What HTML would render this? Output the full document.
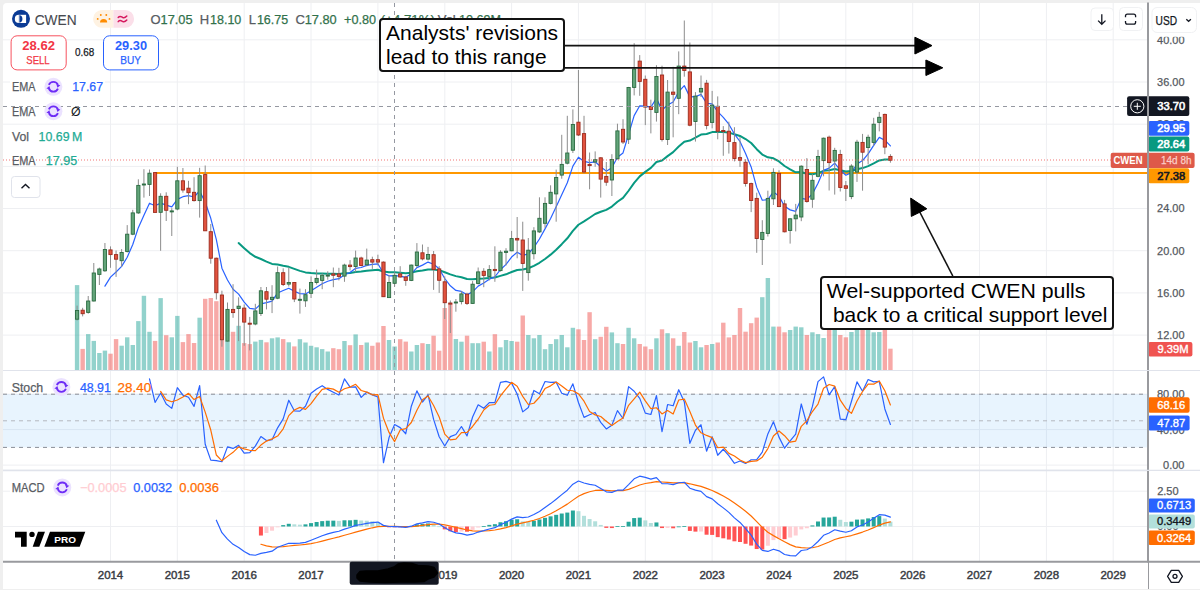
<!DOCTYPE html>
<html><head><meta charset="utf-8"><title>CWEN chart</title>
<style>html,body{margin:0;padding:0;width:1200px;height:590px;overflow:hidden;background:#efefef;font-family:"Liberation Sans",sans-serif}</style>
</head><body>
<svg width="1200" height="590" viewBox="0 0 1200 590" style="position:absolute;left:0;top:0">
<rect x="0" y="0" width="1200" height="590" fill="#efefef"/>
<path d="M3,7 Q3,3 7,3 L1200,3 L1200,589 L3,589 Z" fill="#ffffff"/>
<line x1="110.5" y1="3" x2="110.5" y2="561" stroke="#eeeff2" stroke-width="1"/>
<line x1="177.3" y1="3" x2="177.3" y2="561" stroke="#eeeff2" stroke-width="1"/>
<line x1="244.2" y1="3" x2="244.2" y2="561" stroke="#eeeff2" stroke-width="1"/>
<line x1="311.0" y1="3" x2="311.0" y2="561" stroke="#eeeff2" stroke-width="1"/>
<line x1="377.9" y1="3" x2="377.9" y2="561" stroke="#eeeff2" stroke-width="1"/>
<line x1="444.8" y1="3" x2="444.8" y2="561" stroke="#eeeff2" stroke-width="1"/>
<line x1="511.6" y1="3" x2="511.6" y2="561" stroke="#eeeff2" stroke-width="1"/>
<line x1="578.4" y1="3" x2="578.4" y2="561" stroke="#eeeff2" stroke-width="1"/>
<line x1="645.3" y1="3" x2="645.3" y2="561" stroke="#eeeff2" stroke-width="1"/>
<line x1="712.1" y1="3" x2="712.1" y2="561" stroke="#eeeff2" stroke-width="1"/>
<line x1="779.0" y1="3" x2="779.0" y2="561" stroke="#eeeff2" stroke-width="1"/>
<line x1="845.8" y1="3" x2="845.8" y2="561" stroke="#eeeff2" stroke-width="1"/>
<line x1="912.7" y1="3" x2="912.7" y2="561" stroke="#eeeff2" stroke-width="1"/>
<line x1="979.5" y1="3" x2="979.5" y2="561" stroke="#eeeff2" stroke-width="1"/>
<line x1="1046.4" y1="3" x2="1046.4" y2="561" stroke="#eeeff2" stroke-width="1"/>
<line x1="1113.2" y1="3" x2="1113.2" y2="561" stroke="#eeeff2" stroke-width="1"/>
<line x1="3" y1="39.8" x2="1148" y2="39.8" stroke="#eeeff2" stroke-width="1"/>
<line x1="3" y1="82.0" x2="1148" y2="82.0" stroke="#eeeff2" stroke-width="1"/>
<line x1="3" y1="124.2" x2="1148" y2="124.2" stroke="#eeeff2" stroke-width="1"/>
<line x1="3" y1="166.4" x2="1148" y2="166.4" stroke="#eeeff2" stroke-width="1"/>
<line x1="3" y1="208.5" x2="1148" y2="208.5" stroke="#eeeff2" stroke-width="1"/>
<line x1="3" y1="250.7" x2="1148" y2="250.7" stroke="#eeeff2" stroke-width="1"/>
<line x1="3" y1="292.9" x2="1148" y2="292.9" stroke="#eeeff2" stroke-width="1"/>
<line x1="3" y1="335.1" x2="1148" y2="335.1" stroke="#eeeff2" stroke-width="1"/>
<line x1="3" y1="394.2" x2="1148" y2="394.2" stroke="#eeeff2" stroke-width="1"/>
<line x1="3" y1="429.6" x2="1148" y2="429.6" stroke="#eeeff2" stroke-width="1"/>
<line x1="3" y1="465.1" x2="1148" y2="465.1" stroke="#eeeff2" stroke-width="1"/>
<line x1="3" y1="491.2" x2="1148" y2="491.2" stroke="#eeeff2" stroke-width="1"/>
<line x1="3" y1="526.5" x2="1148" y2="526.5" stroke="#eeeff2" stroke-width="1"/>
<line x1="3" y1="370.5" x2="1200" y2="370.5" stroke="#e0e3eb" stroke-width="1"/>
<line x1="3" y1="470.5" x2="1200" y2="470.5" stroke="#e0e3eb" stroke-width="1.5"/>
<rect x="3" y="394.2" width="1145" height="53.2" fill="#2196f3" fill-opacity="0.1"/>
<line x1="3" y1="394.2" x2="1146" y2="394.2" stroke="#8a8d96" stroke-width="1" stroke-dasharray="4 4"/>
<line x1="3" y1="420.8" x2="1146" y2="420.8" stroke="#b4b7be" stroke-width="1" stroke-dasharray="4 4"/>
<line x1="3" y1="447.4" x2="1146" y2="447.4" stroke="#8a8d96" stroke-width="1" stroke-dasharray="4 4"/>
<rect x="74.88" y="285.1" width="4.4" height="85.1" fill="#26a69a" fill-opacity="0.5"/>
<rect x="80.45" y="348.9" width="4.4" height="21.3" fill="#ef5350" fill-opacity="0.5"/>
<rect x="86.02" y="334.1" width="4.4" height="36.1" fill="#26a69a" fill-opacity="0.5"/>
<rect x="91.59" y="340.9" width="4.4" height="29.3" fill="#26a69a" fill-opacity="0.5"/>
<rect x="97.16" y="353.0" width="4.4" height="17.2" fill="#26a69a" fill-opacity="0.5"/>
<rect x="102.73" y="350.6" width="4.4" height="19.6" fill="#26a69a" fill-opacity="0.5"/>
<rect x="108.30" y="353.7" width="4.4" height="16.5" fill="#ef5350" fill-opacity="0.5"/>
<rect x="113.87" y="339.1" width="4.4" height="31.1" fill="#ef5350" fill-opacity="0.5"/>
<rect x="119.44" y="345.7" width="4.4" height="24.5" fill="#26a69a" fill-opacity="0.5"/>
<rect x="125.01" y="337.3" width="4.4" height="32.9" fill="#26a69a" fill-opacity="0.5"/>
<rect x="130.58" y="345.0" width="4.4" height="25.2" fill="#26a69a" fill-opacity="0.5"/>
<rect x="136.15" y="321.1" width="4.4" height="49.1" fill="#26a69a" fill-opacity="0.5"/>
<rect x="141.73" y="295.8" width="4.4" height="74.4" fill="#26a69a" fill-opacity="0.5"/>
<rect x="147.30" y="331.8" width="4.4" height="38.4" fill="#26a69a" fill-opacity="0.5"/>
<rect x="152.87" y="340.9" width="4.4" height="29.3" fill="#ef5350" fill-opacity="0.5"/>
<rect x="158.44" y="298.1" width="4.4" height="72.1" fill="#26a69a" fill-opacity="0.5"/>
<rect x="164.01" y="335.2" width="4.4" height="35.0" fill="#ef5350" fill-opacity="0.5"/>
<rect x="169.58" y="337.3" width="4.4" height="32.9" fill="#26a69a" fill-opacity="0.5"/>
<rect x="175.15" y="315.9" width="4.4" height="54.3" fill="#26a69a" fill-opacity="0.5"/>
<rect x="180.72" y="342.1" width="4.4" height="28.1" fill="#ef5350" fill-opacity="0.5"/>
<rect x="186.29" y="334.1" width="4.4" height="36.1" fill="#ef5350" fill-opacity="0.5"/>
<rect x="191.86" y="343.0" width="4.4" height="27.2" fill="#ef5350" fill-opacity="0.5"/>
<rect x="197.43" y="317.7" width="4.4" height="52.5" fill="#26a69a" fill-opacity="0.5"/>
<rect x="203.00" y="298.8" width="4.4" height="71.4" fill="#ef5350" fill-opacity="0.5"/>
<rect x="208.57" y="298.0" width="4.4" height="72.2" fill="#ef5350" fill-opacity="0.5"/>
<rect x="214.15" y="301.2" width="4.4" height="69.0" fill="#ef5350" fill-opacity="0.5"/>
<rect x="219.72" y="340.2" width="4.4" height="30.0" fill="#ef5350" fill-opacity="0.5"/>
<rect x="225.29" y="341.1" width="4.4" height="29.1" fill="#26a69a" fill-opacity="0.5"/>
<rect x="230.86" y="331.8" width="4.4" height="38.4" fill="#ef5350" fill-opacity="0.5"/>
<rect x="236.43" y="325.8" width="4.4" height="44.4" fill="#26a69a" fill-opacity="0.5"/>
<rect x="242.00" y="343.1" width="4.4" height="27.1" fill="#ef5350" fill-opacity="0.5"/>
<rect x="247.57" y="344.1" width="4.4" height="26.1" fill="#ef5350" fill-opacity="0.5"/>
<rect x="253.14" y="341.6" width="4.4" height="28.6" fill="#26a69a" fill-opacity="0.5"/>
<rect x="258.71" y="339.9" width="4.4" height="30.3" fill="#26a69a" fill-opacity="0.5"/>
<rect x="264.28" y="342.3" width="4.4" height="27.9" fill="#ef5350" fill-opacity="0.5"/>
<rect x="269.85" y="338.3" width="4.4" height="31.9" fill="#26a69a" fill-opacity="0.5"/>
<rect x="275.43" y="337.4" width="4.4" height="32.8" fill="#26a69a" fill-opacity="0.5"/>
<rect x="281.00" y="339.1" width="4.4" height="31.1" fill="#ef5350" fill-opacity="0.5"/>
<rect x="286.57" y="342.3" width="4.4" height="27.9" fill="#26a69a" fill-opacity="0.5"/>
<rect x="292.14" y="346.4" width="4.4" height="23.8" fill="#ef5350" fill-opacity="0.5"/>
<rect x="297.71" y="339.2" width="4.4" height="31.0" fill="#26a69a" fill-opacity="0.5"/>
<rect x="303.28" y="342.5" width="4.4" height="27.7" fill="#26a69a" fill-opacity="0.5"/>
<rect x="308.85" y="345.8" width="4.4" height="24.4" fill="#26a69a" fill-opacity="0.5"/>
<rect x="314.42" y="347.3" width="4.4" height="22.9" fill="#26a69a" fill-opacity="0.5"/>
<rect x="319.99" y="349.1" width="4.4" height="21.1" fill="#26a69a" fill-opacity="0.5"/>
<rect x="325.56" y="351.5" width="4.4" height="18.7" fill="#26a69a" fill-opacity="0.5"/>
<rect x="331.13" y="348.2" width="4.4" height="22.0" fill="#ef5350" fill-opacity="0.5"/>
<rect x="336.70" y="349.2" width="4.4" height="21.0" fill="#ef5350" fill-opacity="0.5"/>
<rect x="342.27" y="341.0" width="4.4" height="29.2" fill="#26a69a" fill-opacity="0.5"/>
<rect x="347.85" y="345.2" width="4.4" height="25.0" fill="#ef5350" fill-opacity="0.5"/>
<rect x="353.42" y="334.4" width="4.4" height="35.8" fill="#26a69a" fill-opacity="0.5"/>
<rect x="358.99" y="345.0" width="4.4" height="25.2" fill="#ef5350" fill-opacity="0.5"/>
<rect x="364.56" y="342.5" width="4.4" height="27.7" fill="#26a69a" fill-opacity="0.5"/>
<rect x="370.13" y="345.8" width="4.4" height="24.4" fill="#ef5350" fill-opacity="0.5"/>
<rect x="375.70" y="342.5" width="4.4" height="27.7" fill="#ef5350" fill-opacity="0.5"/>
<rect x="381.27" y="326.0" width="4.4" height="44.2" fill="#ef5350" fill-opacity="0.5"/>
<rect x="386.84" y="340.0" width="4.4" height="30.2" fill="#26a69a" fill-opacity="0.5"/>
<rect x="392.41" y="346.5" width="4.4" height="23.7" fill="#26a69a" fill-opacity="0.5"/>
<rect x="397.98" y="339.2" width="4.4" height="31.0" fill="#ef5350" fill-opacity="0.5"/>
<rect x="403.55" y="341.6" width="4.4" height="28.6" fill="#ef5350" fill-opacity="0.5"/>
<rect x="409.12" y="351.5" width="4.4" height="18.7" fill="#26a69a" fill-opacity="0.5"/>
<rect x="414.70" y="345.0" width="4.4" height="25.2" fill="#26a69a" fill-opacity="0.5"/>
<rect x="420.27" y="343.2" width="4.4" height="27.0" fill="#ef5350" fill-opacity="0.5"/>
<rect x="425.84" y="344.0" width="4.4" height="26.2" fill="#26a69a" fill-opacity="0.5"/>
<rect x="431.41" y="335.7" width="4.4" height="34.5" fill="#ef5350" fill-opacity="0.5"/>
<rect x="436.98" y="350.7" width="4.4" height="19.5" fill="#ef5350" fill-opacity="0.5"/>
<rect x="442.55" y="308.0" width="4.4" height="62.2" fill="#ef5350" fill-opacity="0.5"/>
<rect x="448.12" y="303.5" width="4.4" height="66.7" fill="#ef5350" fill-opacity="0.5"/>
<rect x="453.69" y="339.0" width="4.4" height="31.2" fill="#26a69a" fill-opacity="0.5"/>
<rect x="459.26" y="341.7" width="4.4" height="28.5" fill="#26a69a" fill-opacity="0.5"/>
<rect x="464.83" y="335.7" width="4.4" height="34.5" fill="#ef5350" fill-opacity="0.5"/>
<rect x="470.40" y="343.2" width="4.4" height="27.0" fill="#26a69a" fill-opacity="0.5"/>
<rect x="475.97" y="343.2" width="4.4" height="27.0" fill="#26a69a" fill-opacity="0.5"/>
<rect x="481.55" y="341.7" width="4.4" height="28.5" fill="#ef5350" fill-opacity="0.5"/>
<rect x="487.12" y="351.5" width="4.4" height="18.7" fill="#26a69a" fill-opacity="0.5"/>
<rect x="492.69" y="334.2" width="4.4" height="36.0" fill="#ef5350" fill-opacity="0.5"/>
<rect x="498.26" y="347.3" width="4.4" height="22.9" fill="#26a69a" fill-opacity="0.5"/>
<rect x="503.83" y="340.0" width="4.4" height="30.2" fill="#26a69a" fill-opacity="0.5"/>
<rect x="509.40" y="341.0" width="4.4" height="29.2" fill="#26a69a" fill-opacity="0.5"/>
<rect x="514.97" y="341.7" width="4.4" height="28.5" fill="#ef5350" fill-opacity="0.5"/>
<rect x="520.54" y="315.5" width="4.4" height="54.7" fill="#ef5350" fill-opacity="0.5"/>
<rect x="526.11" y="335.0" width="4.4" height="35.2" fill="#26a69a" fill-opacity="0.5"/>
<rect x="531.68" y="338.3" width="4.4" height="31.9" fill="#26a69a" fill-opacity="0.5"/>
<rect x="537.25" y="335.0" width="4.4" height="35.2" fill="#26a69a" fill-opacity="0.5"/>
<rect x="542.82" y="349.2" width="4.4" height="21.0" fill="#26a69a" fill-opacity="0.5"/>
<rect x="548.40" y="344.0" width="4.4" height="26.2" fill="#26a69a" fill-opacity="0.5"/>
<rect x="553.97" y="339.2" width="4.4" height="31.0" fill="#26a69a" fill-opacity="0.5"/>
<rect x="559.54" y="335.0" width="4.4" height="35.2" fill="#26a69a" fill-opacity="0.5"/>
<rect x="565.11" y="347.3" width="4.4" height="22.9" fill="#26a69a" fill-opacity="0.5"/>
<rect x="570.68" y="327.8" width="4.4" height="42.4" fill="#26a69a" fill-opacity="0.5"/>
<rect x="576.25" y="329.3" width="4.4" height="40.9" fill="#ef5350" fill-opacity="0.5"/>
<rect x="581.82" y="340.0" width="4.4" height="30.2" fill="#ef5350" fill-opacity="0.5"/>
<rect x="587.39" y="312.2" width="4.4" height="58.0" fill="#ef5350" fill-opacity="0.5"/>
<rect x="592.96" y="339.2" width="4.4" height="31.0" fill="#26a69a" fill-opacity="0.5"/>
<rect x="598.53" y="336.8" width="4.4" height="33.4" fill="#ef5350" fill-opacity="0.5"/>
<rect x="604.10" y="326.8" width="4.4" height="43.4" fill="#ef5350" fill-opacity="0.5"/>
<rect x="609.67" y="332.4" width="4.4" height="37.8" fill="#26a69a" fill-opacity="0.5"/>
<rect x="615.25" y="343.2" width="4.4" height="27.0" fill="#26a69a" fill-opacity="0.5"/>
<rect x="620.82" y="344.0" width="4.4" height="26.2" fill="#ef5350" fill-opacity="0.5"/>
<rect x="626.39" y="327.8" width="4.4" height="42.4" fill="#26a69a" fill-opacity="0.5"/>
<rect x="631.96" y="338.3" width="4.4" height="31.9" fill="#26a69a" fill-opacity="0.5"/>
<rect x="637.53" y="344.0" width="4.4" height="26.2" fill="#ef5350" fill-opacity="0.5"/>
<rect x="643.10" y="346.5" width="4.4" height="23.7" fill="#ef5350" fill-opacity="0.5"/>
<rect x="648.67" y="349.2" width="4.4" height="21.0" fill="#ef5350" fill-opacity="0.5"/>
<rect x="654.24" y="338.3" width="4.4" height="31.9" fill="#26a69a" fill-opacity="0.5"/>
<rect x="659.81" y="329.3" width="4.4" height="40.9" fill="#ef5350" fill-opacity="0.5"/>
<rect x="665.38" y="333.2" width="4.4" height="37.0" fill="#26a69a" fill-opacity="0.5"/>
<rect x="670.95" y="338.3" width="4.4" height="31.9" fill="#ef5350" fill-opacity="0.5"/>
<rect x="676.52" y="345.8" width="4.4" height="24.4" fill="#26a69a" fill-opacity="0.5"/>
<rect x="682.10" y="332.0" width="4.4" height="38.2" fill="#ef5350" fill-opacity="0.5"/>
<rect x="687.67" y="342.5" width="4.4" height="27.7" fill="#ef5350" fill-opacity="0.5"/>
<rect x="693.24" y="341.0" width="4.4" height="29.2" fill="#26a69a" fill-opacity="0.5"/>
<rect x="698.81" y="347.3" width="4.4" height="22.9" fill="#26a69a" fill-opacity="0.5"/>
<rect x="704.38" y="345.0" width="4.4" height="25.2" fill="#ef5350" fill-opacity="0.5"/>
<rect x="709.95" y="344.0" width="4.4" height="26.2" fill="#26a69a" fill-opacity="0.5"/>
<rect x="715.52" y="342.5" width="4.4" height="27.7" fill="#ef5350" fill-opacity="0.5"/>
<rect x="721.09" y="322.7" width="4.4" height="47.5" fill="#ef5350" fill-opacity="0.5"/>
<rect x="726.66" y="337.4" width="4.4" height="32.8" fill="#ef5350" fill-opacity="0.5"/>
<rect x="732.23" y="335.0" width="4.4" height="35.2" fill="#ef5350" fill-opacity="0.5"/>
<rect x="737.80" y="308.0" width="4.4" height="62.2" fill="#ef5350" fill-opacity="0.5"/>
<rect x="743.37" y="331.7" width="4.4" height="38.5" fill="#ef5350" fill-opacity="0.5"/>
<rect x="748.95" y="323.2" width="4.4" height="47.0" fill="#ef5350" fill-opacity="0.5"/>
<rect x="754.52" y="317.6" width="4.4" height="52.6" fill="#ef5350" fill-opacity="0.5"/>
<rect x="760.09" y="297.2" width="4.4" height="73.0" fill="#26a69a" fill-opacity="0.5"/>
<rect x="765.66" y="278.0" width="4.4" height="92.2" fill="#26a69a" fill-opacity="0.5"/>
<rect x="771.23" y="326.6" width="4.4" height="43.6" fill="#26a69a" fill-opacity="0.5"/>
<rect x="776.80" y="326.6" width="4.4" height="43.6" fill="#ef5350" fill-opacity="0.5"/>
<rect x="782.37" y="332.3" width="4.4" height="37.9" fill="#ef5350" fill-opacity="0.5"/>
<rect x="787.94" y="330.0" width="4.4" height="40.2" fill="#26a69a" fill-opacity="0.5"/>
<rect x="793.51" y="326.6" width="4.4" height="43.6" fill="#26a69a" fill-opacity="0.5"/>
<rect x="799.08" y="327.3" width="4.4" height="42.9" fill="#26a69a" fill-opacity="0.5"/>
<rect x="804.65" y="335.0" width="4.4" height="35.2" fill="#ef5350" fill-opacity="0.5"/>
<rect x="810.22" y="332.3" width="4.4" height="37.9" fill="#26a69a" fill-opacity="0.5"/>
<rect x="815.80" y="334.1" width="4.4" height="36.1" fill="#26a69a" fill-opacity="0.5"/>
<rect x="821.37" y="338.0" width="4.4" height="32.2" fill="#26a69a" fill-opacity="0.5"/>
<rect x="826.94" y="326.0" width="4.4" height="44.2" fill="#ef5350" fill-opacity="0.5"/>
<rect x="832.51" y="326.0" width="4.4" height="44.2" fill="#26a69a" fill-opacity="0.5"/>
<rect x="838.08" y="335.0" width="4.4" height="35.2" fill="#ef5350" fill-opacity="0.5"/>
<rect x="843.65" y="337.3" width="4.4" height="32.9" fill="#ef5350" fill-opacity="0.5"/>
<rect x="849.22" y="332.0" width="4.4" height="38.2" fill="#26a69a" fill-opacity="0.5"/>
<rect x="854.79" y="326.0" width="4.4" height="44.2" fill="#26a69a" fill-opacity="0.5"/>
<rect x="860.36" y="326.0" width="4.4" height="44.2" fill="#ef5350" fill-opacity="0.5"/>
<rect x="865.93" y="326.0" width="4.4" height="44.2" fill="#26a69a" fill-opacity="0.5"/>
<rect x="871.50" y="332.3" width="4.4" height="37.9" fill="#26a69a" fill-opacity="0.5"/>
<rect x="877.07" y="332.0" width="4.4" height="38.2" fill="#26a69a" fill-opacity="0.5"/>
<rect x="882.65" y="326.0" width="4.4" height="44.2" fill="#ef5350" fill-opacity="0.5"/>
<rect x="888.22" y="348.7" width="4.4" height="21.5" fill="#ef5350" fill-opacity="0.5"/>
<line x1="155" y1="173" x2="1148" y2="173" stroke="#ff9800" stroke-width="2"/>
<line x1="394.5" y1="3" x2="394.5" y2="561" stroke="#9598a1" stroke-width="1" stroke-dasharray="4 4"/>
<polyline points="238.63,243.07 244.20,248.17 249.77,253.07 255.34,256.80 260.91,259.00 266.48,261.59 272.05,263.90 277.62,264.46 283.20,265.76 288.77,266.84 294.34,268.91 299.91,270.87 305.48,272.41 311.05,273.06 316.62,273.40 322.19,273.53 327.76,273.63 333.33,273.74 338.90,273.91 344.47,273.34 350.05,272.91 355.62,271.94 361.19,271.53 366.76,270.79 372.33,270.23 377.90,269.71 383.47,271.45 389.04,272.16 394.61,272.36 400.18,272.66 405.75,273.16 411.32,272.64 416.90,271.31 422.47,270.51 428.04,269.48 433.61,269.48 439.18,270.18 444.75,272.28 450.32,274.33 455.89,276.12 461.46,277.26 467.03,278.95 472.60,279.29 478.17,278.81 483.75,278.59 489.32,278.01 494.89,277.53 500.46,275.90 506.03,274.31 511.60,272.00 517.17,269.94 522.74,269.52 528.31,268.27 533.88,265.86 539.45,262.79 545.02,258.96 550.60,254.66 556.17,249.68 561.74,244.18 567.31,238.30 572.88,230.95 578.45,224.76 584.02,221.36 589.59,217.76 595.16,214.02 600.73,211.76 606.30,209.86 611.88,206.61 617.45,201.72 623.02,197.87 628.59,190.75 634.16,182.89 639.73,176.35 645.30,171.88 650.87,167.85 656.44,161.96 662.01,160.51 667.58,156.10 673.15,152.11 678.72,146.56 684.30,141.65 689.87,140.59 695.44,137.72 701.01,134.54 706.58,133.96 712.15,132.10 717.72,132.04 723.29,132.02 728.86,132.63 734.43,134.30 740.00,135.97 745.57,139.03 751.15,143.00 756.72,149.16 762.29,154.53 767.86,157.36 773.43,158.33 779.00,161.45 784.57,165.98 790.14,169.39 795.71,172.34 801.28,171.94 806.85,173.85 812.42,174.27 818.00,173.12 823.57,170.87 829.14,170.33 834.71,169.05 840.28,170.24 845.85,171.40 851.42,171.06 856.99,169.20 862.56,168.10 868.13,166.12 873.70,163.41 879.27,160.44 884.85,159.58 890.42,159.62" fill="none" stroke="#089981" stroke-width="2" stroke-linejoin="round" stroke-linecap="round" />
<polyline points="104.93,286.12 110.50,277.11 116.07,271.99 121.64,266.42 127.21,257.22 132.78,244.56 138.35,227.65 143.93,215.18 149.50,203.19 155.07,205.82 160.64,203.10 166.21,205.16 171.78,206.80 177.35,199.37 182.92,196.69 188.49,195.55 194.06,196.99 199.63,190.91 205.20,202.31 210.77,218.28 216.35,239.54 221.92,268.19 227.49,279.96 233.06,289.29 238.63,294.12 244.20,302.11 249.77,308.42 255.34,309.13 260.91,303.89 266.48,302.55 272.05,301.05 277.62,292.95 283.20,290.54 288.77,288.24 294.34,291.31 299.91,293.60 305.48,293.91 311.05,290.65 316.62,287.15 322.19,283.76 327.76,281.29 333.33,279.58 338.90,278.67 344.47,274.79 350.05,272.45 355.62,268.32 361.19,267.52 366.76,265.40 372.33,264.46 377.90,263.78 383.47,273.19 389.04,275.85 394.61,275.69 400.18,276.07 405.75,277.30 411.32,273.82 416.90,267.58 422.47,265.10 428.04,262.07 433.61,264.22 439.18,268.82 444.75,278.50 450.32,285.81 455.89,290.44 461.46,291.43 467.03,294.85 472.60,291.81 478.17,286.12 483.75,283.06 489.32,279.21 494.89,276.75 500.46,269.74 506.03,264.44 511.60,257.06 517.17,252.18 522.74,255.39 528.31,253.91 533.88,247.33 539.45,239.04 545.02,228.86 550.60,218.41 556.17,206.72 561.74,194.63 567.31,182.74 572.88,166.10 578.45,157.21 584.02,161.44 589.59,162.63 595.16,161.79 600.73,166.74 606.30,171.15 611.88,167.82 617.45,157.27 623.02,152.91 628.59,134.22 634.16,115.59 639.73,105.82 645.30,106.19 650.87,107.13 656.44,98.38 662.01,110.13 667.58,104.98 673.15,101.93 678.72,91.69 684.30,85.64 689.87,96.94 695.44,96.70 701.01,94.33 706.58,103.23 712.15,103.80 717.72,111.63 723.29,117.33 728.86,124.24 734.43,134.03 740.00,141.50 745.57,153.50 751.15,166.93 756.72,187.38 762.29,200.24 767.86,199.72 773.43,191.91 779.00,196.11 784.57,206.31 790.14,209.88 795.71,211.37 801.28,198.46 806.85,199.33 812.42,193.89 818.00,183.21 823.57,170.35 829.14,168.14 834.71,163.07 840.28,170.05 845.85,175.26 851.42,172.65 856.99,163.95 862.56,160.59 868.13,153.94 873.70,145.44 879.27,137.40 884.85,140.17 890.42,145.89" fill="none" stroke="#2962ff" stroke-width="1.2" stroke-linejoin="round" stroke-linecap="round" />
<line x1="77.08" y1="305.6" x2="77.08" y2="320.5" stroke="#8c8c8c" stroke-width="1"/>
<rect x="75.48" y="310.5" width="3.2" height="8.7" fill="#63a57a" stroke="#2a6a40" stroke-width="0.9"/>
<line x1="82.65" y1="307.8" x2="82.65" y2="316.4" stroke="#8c8c8c" stroke-width="1"/>
<rect x="81.05" y="310.2" width="3.2" height="3.5" fill="#e2533f" stroke="#9c2b1d" stroke-width="0.9"/>
<line x1="88.22" y1="296" x2="88.22" y2="313.7" stroke="#8c8c8c" stroke-width="1"/>
<rect x="86.62" y="301.0" width="3.2" height="11.4" fill="#63a57a" stroke="#2a6a40" stroke-width="0.9"/>
<line x1="93.79" y1="263" x2="93.79" y2="301.5" stroke="#8c8c8c" stroke-width="1"/>
<rect x="92.19" y="273.0" width="3.2" height="28.0" fill="#63a57a" stroke="#2a6a40" stroke-width="0.9"/>
<line x1="99.36" y1="267.6" x2="99.36" y2="285" stroke="#8c8c8c" stroke-width="1"/>
<rect x="97.76" y="269.0" width="3.2" height="5.4" fill="#63a57a" stroke="#2a6a40" stroke-width="0.9"/>
<line x1="104.93" y1="243" x2="104.93" y2="271.9" stroke="#8c8c8c" stroke-width="1"/>
<rect x="103.33" y="249.5" width="3.2" height="21.3" fill="#63a57a" stroke="#2a6a40" stroke-width="0.9"/>
<line x1="110.50" y1="246.4" x2="110.50" y2="267.8" stroke="#8c8c8c" stroke-width="1"/>
<rect x="108.90" y="249.9" width="3.2" height="4.7" fill="#e2533f" stroke="#9c2b1d" stroke-width="0.9"/>
<line x1="116.07" y1="250.5" x2="116.07" y2="276.9" stroke="#8c8c8c" stroke-width="1"/>
<rect x="114.47" y="254.6" width="3.2" height="4.6" fill="#e2533f" stroke="#9c2b1d" stroke-width="0.9"/>
<line x1="121.64" y1="249.1" x2="121.64" y2="266.8" stroke="#8c8c8c" stroke-width="1"/>
<rect x="120.04" y="252.5" width="3.2" height="8.2" fill="#63a57a" stroke="#2a6a40" stroke-width="0.9"/>
<line x1="127.21" y1="225.1" x2="127.21" y2="252.5" stroke="#8c8c8c" stroke-width="1"/>
<rect x="125.61" y="234.2" width="3.2" height="17.3" fill="#63a57a" stroke="#2a6a40" stroke-width="0.9"/>
<line x1="132.78" y1="209.8" x2="132.78" y2="235.2" stroke="#8c8c8c" stroke-width="1"/>
<rect x="131.18" y="212.9" width="3.2" height="21.3" fill="#63a57a" stroke="#2a6a40" stroke-width="0.9"/>
<line x1="138.35" y1="179.3" x2="138.35" y2="213.9" stroke="#8c8c8c" stroke-width="1"/>
<rect x="136.75" y="185.4" width="3.2" height="27.5" fill="#63a57a" stroke="#2a6a40" stroke-width="0.9"/>
<line x1="143.93" y1="169.2" x2="143.93" y2="197.6" stroke="#8c8c8c" stroke-width="1"/>
<rect x="142.33" y="184.0" width="3.2" height="1.0" fill="#63a57a" stroke="#2a6a40" stroke-width="0.9"/>
<line x1="149.50" y1="169.5" x2="149.50" y2="196" stroke="#8c8c8c" stroke-width="1"/>
<rect x="147.90" y="173.2" width="3.2" height="11.2" fill="#63a57a" stroke="#2a6a40" stroke-width="0.9"/>
<line x1="155.07" y1="172.6" x2="155.07" y2="212.6" stroke="#8c8c8c" stroke-width="1"/>
<rect x="153.47" y="172.6" width="3.2" height="39.8" fill="#e2533f" stroke="#9c2b1d" stroke-width="0.9"/>
<line x1="160.64" y1="193.3" x2="160.64" y2="250.8" stroke="#8c8c8c" stroke-width="1"/>
<rect x="159.04" y="196.3" width="3.2" height="16.0" fill="#63a57a" stroke="#2a6a40" stroke-width="0.9"/>
<line x1="166.21" y1="192.3" x2="166.21" y2="221" stroke="#8c8c8c" stroke-width="1"/>
<rect x="164.61" y="196.3" width="3.2" height="14.0" fill="#e2533f" stroke="#9c2b1d" stroke-width="0.9"/>
<line x1="171.78" y1="208.2" x2="171.78" y2="236" stroke="#8c8c8c" stroke-width="1"/>
<rect x="170.18" y="210.9" width="3.2" height="1.0" fill="#63a57a" stroke="#2a6a40" stroke-width="0.9"/>
<line x1="177.35" y1="166.8" x2="177.35" y2="210.3" stroke="#8c8c8c" stroke-width="1"/>
<rect x="175.75" y="180.8" width="3.2" height="28.2" fill="#63a57a" stroke="#2a6a40" stroke-width="0.9"/>
<line x1="182.92" y1="168" x2="182.92" y2="192.7" stroke="#8c8c8c" stroke-width="1"/>
<rect x="181.32" y="180.8" width="3.2" height="9.2" fill="#e2533f" stroke="#9c2b1d" stroke-width="0.9"/>
<line x1="188.49" y1="180.8" x2="188.49" y2="204.2" stroke="#8c8c8c" stroke-width="1"/>
<rect x="186.89" y="188.2" width="3.2" height="4.5" fill="#e2533f" stroke="#9c2b1d" stroke-width="0.9"/>
<line x1="194.06" y1="177.2" x2="194.06" y2="201.6" stroke="#8c8c8c" stroke-width="1"/>
<rect x="192.46" y="192.3" width="3.2" height="8.3" fill="#e2533f" stroke="#9c2b1d" stroke-width="0.9"/>
<line x1="199.63" y1="167.8" x2="199.63" y2="217.6" stroke="#8c8c8c" stroke-width="1"/>
<rect x="198.03" y="175.7" width="3.2" height="24.9" fill="#63a57a" stroke="#2a6a40" stroke-width="0.9"/>
<line x1="205.20" y1="165.5" x2="205.20" y2="231" stroke="#8c8c8c" stroke-width="1"/>
<rect x="203.60" y="174.6" width="3.2" height="56.2" fill="#e2533f" stroke="#9c2b1d" stroke-width="0.9"/>
<line x1="210.77" y1="224" x2="210.77" y2="263.7" stroke="#8c8c8c" stroke-width="1"/>
<rect x="209.17" y="231.7" width="3.2" height="26.5" fill="#e2533f" stroke="#9c2b1d" stroke-width="0.9"/>
<line x1="216.35" y1="257.6" x2="216.35" y2="299.5" stroke="#8c8c8c" stroke-width="1"/>
<rect x="214.75" y="258.2" width="3.2" height="34.5" fill="#e2533f" stroke="#9c2b1d" stroke-width="0.9"/>
<line x1="221.92" y1="290.7" x2="221.92" y2="346.7" stroke="#8c8c8c" stroke-width="1"/>
<rect x="220.32" y="295.0" width="3.2" height="44.8" fill="#e2533f" stroke="#9c2b1d" stroke-width="0.9"/>
<line x1="227.49" y1="302.5" x2="227.49" y2="341.5" stroke="#8c8c8c" stroke-width="1"/>
<rect x="225.89" y="309.4" width="3.2" height="31.7" fill="#63a57a" stroke="#2a6a40" stroke-width="0.9"/>
<line x1="233.06" y1="284.2" x2="233.06" y2="317.8" stroke="#8c8c8c" stroke-width="1"/>
<rect x="231.46" y="309.4" width="3.2" height="3.2" fill="#e2533f" stroke="#9c2b1d" stroke-width="0.9"/>
<line x1="238.63" y1="297.3" x2="238.63" y2="341.1" stroke="#8c8c8c" stroke-width="1"/>
<rect x="237.03" y="306.2" width="3.2" height="2.3" fill="#63a57a" stroke="#2a6a40" stroke-width="0.9"/>
<line x1="244.20" y1="304.4" x2="244.20" y2="345.8" stroke="#8c8c8c" stroke-width="1"/>
<rect x="242.60" y="308.1" width="3.2" height="14.0" fill="#e2533f" stroke="#9c2b1d" stroke-width="0.9"/>
<line x1="249.77" y1="316.9" x2="249.77" y2="350.4" stroke="#8c8c8c" stroke-width="1"/>
<rect x="248.17" y="323.2" width="3.2" height="1.0" fill="#e2533f" stroke="#9c2b1d" stroke-width="0.9"/>
<line x1="255.34" y1="303.8" x2="255.34" y2="325.3" stroke="#8c8c8c" stroke-width="1"/>
<rect x="253.74" y="310.9" width="3.2" height="13.1" fill="#63a57a" stroke="#2a6a40" stroke-width="0.9"/>
<line x1="260.91" y1="287" x2="260.91" y2="316" stroke="#8c8c8c" stroke-width="1"/>
<rect x="259.31" y="290.8" width="3.2" height="22.7" fill="#63a57a" stroke="#2a6a40" stroke-width="0.9"/>
<line x1="266.48" y1="287" x2="266.48" y2="309.4" stroke="#8c8c8c" stroke-width="1"/>
<rect x="264.88" y="291.7" width="3.2" height="7.5" fill="#e2533f" stroke="#9c2b1d" stroke-width="0.9"/>
<line x1="272.05" y1="285.2" x2="272.05" y2="313.1" stroke="#8c8c8c" stroke-width="1"/>
<rect x="270.45" y="297.3" width="3.2" height="2.2" fill="#63a57a" stroke="#2a6a40" stroke-width="0.9"/>
<line x1="277.62" y1="266.5" x2="277.62" y2="299.2" stroke="#8c8c8c" stroke-width="1"/>
<rect x="276.02" y="272.7" width="3.2" height="25.5" fill="#63a57a" stroke="#2a6a40" stroke-width="0.9"/>
<line x1="283.20" y1="268.3" x2="283.20" y2="286" stroke="#8c8c8c" stroke-width="1"/>
<rect x="281.60" y="272.7" width="3.2" height="11.8" fill="#e2533f" stroke="#9c2b1d" stroke-width="0.9"/>
<line x1="288.77" y1="267.5" x2="288.77" y2="286.5" stroke="#8c8c8c" stroke-width="1"/>
<rect x="287.17" y="282.5" width="3.2" height="1.6" fill="#63a57a" stroke="#2a6a40" stroke-width="0.9"/>
<line x1="294.34" y1="282" x2="294.34" y2="302.1" stroke="#8c8c8c" stroke-width="1"/>
<rect x="292.74" y="282.5" width="3.2" height="16.5" fill="#e2533f" stroke="#9c2b1d" stroke-width="0.9"/>
<line x1="299.91" y1="288.6" x2="299.91" y2="313.6" stroke="#8c8c8c" stroke-width="1"/>
<rect x="298.31" y="299.3" width="3.2" height="1.0" fill="#63a57a" stroke="#2a6a40" stroke-width="0.9"/>
<line x1="305.48" y1="289.2" x2="305.48" y2="306.9" stroke="#8c8c8c" stroke-width="1"/>
<rect x="303.88" y="294.7" width="3.2" height="6.1" fill="#63a57a" stroke="#2a6a40" stroke-width="0.9"/>
<line x1="311.05" y1="276.4" x2="311.05" y2="298" stroke="#8c8c8c" stroke-width="1"/>
<rect x="309.45" y="282.5" width="3.2" height="10.8" fill="#63a57a" stroke="#2a6a40" stroke-width="0.9"/>
<line x1="316.62" y1="269.6" x2="316.62" y2="284.5" stroke="#8c8c8c" stroke-width="1"/>
<rect x="315.02" y="278.4" width="3.2" height="4.1" fill="#63a57a" stroke="#2a6a40" stroke-width="0.9"/>
<line x1="322.19" y1="273.4" x2="322.19" y2="289.2" stroke="#8c8c8c" stroke-width="1"/>
<rect x="320.59" y="275.3" width="3.2" height="5.1" fill="#63a57a" stroke="#2a6a40" stroke-width="0.9"/>
<line x1="327.76" y1="271.3" x2="327.76" y2="279.7" stroke="#8c8c8c" stroke-width="1"/>
<rect x="326.16" y="275.1" width="3.2" height="1.0" fill="#63a57a" stroke="#2a6a40" stroke-width="0.9"/>
<line x1="333.33" y1="267.5" x2="333.33" y2="287.2" stroke="#8c8c8c" stroke-width="1"/>
<rect x="331.73" y="273.9" width="3.2" height="1.4" fill="#e2533f" stroke="#9c2b1d" stroke-width="0.9"/>
<line x1="338.90" y1="267.8" x2="338.90" y2="280.4" stroke="#8c8c8c" stroke-width="1"/>
<rect x="337.30" y="273.9" width="3.2" height="2.5" fill="#e2533f" stroke="#9c2b1d" stroke-width="0.9"/>
<line x1="344.47" y1="263.7" x2="344.47" y2="281.8" stroke="#8c8c8c" stroke-width="1"/>
<rect x="342.87" y="265.1" width="3.2" height="11.0" fill="#63a57a" stroke="#2a6a40" stroke-width="0.9"/>
<line x1="350.05" y1="260.1" x2="350.05" y2="270.5" stroke="#8c8c8c" stroke-width="1"/>
<rect x="348.45" y="265.1" width="3.2" height="1.5" fill="#e2533f" stroke="#9c2b1d" stroke-width="0.9"/>
<line x1="355.62" y1="250.6" x2="355.62" y2="272.3" stroke="#8c8c8c" stroke-width="1"/>
<rect x="354.02" y="258.0" width="3.2" height="8.5" fill="#63a57a" stroke="#2a6a40" stroke-width="0.9"/>
<line x1="361.19" y1="256.7" x2="361.19" y2="266.2" stroke="#8c8c8c" stroke-width="1"/>
<rect x="359.59" y="258.0" width="3.2" height="7.5" fill="#e2533f" stroke="#9c2b1d" stroke-width="0.9"/>
<line x1="366.76" y1="248.6" x2="366.76" y2="266.2" stroke="#8c8c8c" stroke-width="1"/>
<rect x="365.16" y="260.1" width="3.2" height="4.7" fill="#63a57a" stroke="#2a6a40" stroke-width="0.9"/>
<line x1="372.33" y1="256.7" x2="372.33" y2="268.9" stroke="#8c8c8c" stroke-width="1"/>
<rect x="370.73" y="259.7" width="3.2" height="2.4" fill="#e2533f" stroke="#9c2b1d" stroke-width="0.9"/>
<line x1="377.90" y1="254.7" x2="377.90" y2="265.5" stroke="#8c8c8c" stroke-width="1"/>
<rect x="376.30" y="259.7" width="3.2" height="2.4" fill="#e2533f" stroke="#9c2b1d" stroke-width="0.9"/>
<line x1="383.47" y1="261.4" x2="383.47" y2="297" stroke="#8c8c8c" stroke-width="1"/>
<rect x="381.87" y="262.1" width="3.2" height="34.6" fill="#e2533f" stroke="#9c2b1d" stroke-width="0.9"/>
<line x1="389.04" y1="275" x2="389.04" y2="297.8" stroke="#8c8c8c" stroke-width="1"/>
<rect x="387.44" y="282.5" width="3.2" height="15.1" fill="#63a57a" stroke="#2a6a40" stroke-width="0.9"/>
<line x1="394.61" y1="272.1" x2="394.61" y2="286.5" stroke="#8c8c8c" stroke-width="1"/>
<rect x="393.01" y="275.3" width="3.2" height="8.0" fill="#63a57a" stroke="#2a6a40" stroke-width="0.9"/>
<line x1="400.18" y1="266.2" x2="400.18" y2="277.7" stroke="#8c8c8c" stroke-width="1"/>
<rect x="398.58" y="273.9" width="3.2" height="3.1" fill="#e2533f" stroke="#9c2b1d" stroke-width="0.9"/>
<line x1="405.75" y1="275.7" x2="405.75" y2="285.8" stroke="#8c8c8c" stroke-width="1"/>
<rect x="404.15" y="277.0" width="3.2" height="3.4" fill="#e2533f" stroke="#9c2b1d" stroke-width="0.9"/>
<line x1="411.32" y1="264.6" x2="411.32" y2="281.1" stroke="#8c8c8c" stroke-width="1"/>
<rect x="409.72" y="265.1" width="3.2" height="15.3" fill="#63a57a" stroke="#2a6a40" stroke-width="0.9"/>
<line x1="416.90" y1="243.1" x2="416.90" y2="267.5" stroke="#8c8c8c" stroke-width="1"/>
<rect x="415.30" y="252.0" width="3.2" height="13.5" fill="#63a57a" stroke="#2a6a40" stroke-width="0.9"/>
<line x1="422.47" y1="244.5" x2="422.47" y2="260.4" stroke="#8c8c8c" stroke-width="1"/>
<rect x="420.87" y="252.8" width="3.2" height="6.1" fill="#e2533f" stroke="#9c2b1d" stroke-width="0.9"/>
<line x1="428.04" y1="246.9" x2="428.04" y2="260.4" stroke="#8c8c8c" stroke-width="1"/>
<rect x="426.44" y="254.5" width="3.2" height="4.6" fill="#63a57a" stroke="#2a6a40" stroke-width="0.9"/>
<line x1="433.61" y1="251" x2="433.61" y2="289.9" stroke="#8c8c8c" stroke-width="1"/>
<rect x="432.01" y="254.7" width="3.2" height="14.9" fill="#e2533f" stroke="#9c2b1d" stroke-width="0.9"/>
<line x1="439.18" y1="266.2" x2="439.18" y2="292.9" stroke="#8c8c8c" stroke-width="1"/>
<rect x="437.58" y="268.9" width="3.2" height="11.4" fill="#e2533f" stroke="#9c2b1d" stroke-width="0.9"/>
<line x1="444.75" y1="276.4" x2="444.75" y2="319" stroke="#8c8c8c" stroke-width="1"/>
<rect x="443.15" y="281.8" width="3.2" height="20.9" fill="#e2533f" stroke="#9c2b1d" stroke-width="0.9"/>
<line x1="450.32" y1="300.5" x2="450.32" y2="333" stroke="#8c8c8c" stroke-width="1"/>
<rect x="448.72" y="303.0" width="3.2" height="1.1" fill="#e2533f" stroke="#9c2b1d" stroke-width="0.9"/>
<line x1="455.89" y1="299" x2="455.89" y2="311.7" stroke="#8c8c8c" stroke-width="1"/>
<rect x="454.29" y="302.0" width="3.2" height="1.0" fill="#63a57a" stroke="#2a6a40" stroke-width="0.9"/>
<line x1="461.46" y1="291" x2="461.46" y2="304.4" stroke="#8c8c8c" stroke-width="1"/>
<rect x="459.86" y="293.9" width="3.2" height="7.7" fill="#63a57a" stroke="#2a6a40" stroke-width="0.9"/>
<line x1="467.03" y1="292.8" x2="467.03" y2="305" stroke="#8c8c8c" stroke-width="1"/>
<rect x="465.43" y="294.1" width="3.2" height="9.3" fill="#e2533f" stroke="#9c2b1d" stroke-width="0.9"/>
<line x1="472.60" y1="281.1" x2="472.60" y2="303.6" stroke="#8c8c8c" stroke-width="1"/>
<rect x="471.00" y="284.2" width="3.2" height="19.2" fill="#63a57a" stroke="#2a6a40" stroke-width="0.9"/>
<line x1="478.17" y1="267.5" x2="478.17" y2="284.5" stroke="#8c8c8c" stroke-width="1"/>
<rect x="476.57" y="271.9" width="3.2" height="11.6" fill="#63a57a" stroke="#2a6a40" stroke-width="0.9"/>
<line x1="483.75" y1="268.2" x2="483.75" y2="287.2" stroke="#8c8c8c" stroke-width="1"/>
<rect x="482.15" y="271.3" width="3.2" height="4.1" fill="#e2533f" stroke="#9c2b1d" stroke-width="0.9"/>
<line x1="489.32" y1="265.1" x2="489.32" y2="280.4" stroke="#8c8c8c" stroke-width="1"/>
<rect x="487.72" y="269.6" width="3.2" height="6.8" fill="#63a57a" stroke="#2a6a40" stroke-width="0.9"/>
<line x1="494.89" y1="246.3" x2="494.89" y2="281.8" stroke="#8c8c8c" stroke-width="1"/>
<rect x="493.29" y="269.4" width="3.2" height="1.2" fill="#e2533f" stroke="#9c2b1d" stroke-width="0.9"/>
<line x1="500.46" y1="250.2" x2="500.46" y2="271.6" stroke="#8c8c8c" stroke-width="1"/>
<rect x="498.86" y="252.2" width="3.2" height="18.4" fill="#63a57a" stroke="#2a6a40" stroke-width="0.9"/>
<line x1="506.03" y1="248.2" x2="506.03" y2="265.5" stroke="#8c8c8c" stroke-width="1"/>
<rect x="504.43" y="251.2" width="3.2" height="1.2" fill="#63a57a" stroke="#2a6a40" stroke-width="0.9"/>
<line x1="511.60" y1="230.9" x2="511.60" y2="251.2" stroke="#8c8c8c" stroke-width="1"/>
<rect x="510.00" y="238.6" width="3.2" height="12.2" fill="#63a57a" stroke="#2a6a40" stroke-width="0.9"/>
<line x1="517.17" y1="217" x2="517.17" y2="258.3" stroke="#8c8c8c" stroke-width="1"/>
<rect x="515.57" y="238.4" width="3.2" height="1.6" fill="#e2533f" stroke="#9c2b1d" stroke-width="0.9"/>
<line x1="522.74" y1="221.7" x2="522.74" y2="290.9" stroke="#8c8c8c" stroke-width="1"/>
<rect x="521.14" y="240.0" width="3.2" height="23.4" fill="#e2533f" stroke="#9c2b1d" stroke-width="0.9"/>
<line x1="528.31" y1="238" x2="528.31" y2="280.7" stroke="#8c8c8c" stroke-width="1"/>
<rect x="526.71" y="250.2" width="3.2" height="22.4" fill="#63a57a" stroke="#2a6a40" stroke-width="0.9"/>
<line x1="533.88" y1="227.2" x2="533.88" y2="259.4" stroke="#8c8c8c" stroke-width="1"/>
<rect x="532.28" y="230.9" width="3.2" height="22.8" fill="#63a57a" stroke="#2a6a40" stroke-width="0.9"/>
<line x1="539.45" y1="197.3" x2="539.45" y2="232.9" stroke="#8c8c8c" stroke-width="1"/>
<rect x="537.85" y="218.3" width="3.2" height="13.6" fill="#63a57a" stroke="#2a6a40" stroke-width="0.9"/>
<line x1="545.02" y1="197.3" x2="545.02" y2="227.8" stroke="#8c8c8c" stroke-width="1"/>
<rect x="543.42" y="203.4" width="3.2" height="19.9" fill="#63a57a" stroke="#2a6a40" stroke-width="0.9"/>
<line x1="550.60" y1="185.3" x2="550.60" y2="204.4" stroke="#8c8c8c" stroke-width="1"/>
<rect x="549.00" y="192.3" width="3.2" height="11.1" fill="#63a57a" stroke="#2a6a40" stroke-width="0.9"/>
<line x1="556.17" y1="169.6" x2="556.17" y2="221.7" stroke="#8c8c8c" stroke-width="1"/>
<rect x="554.57" y="177.5" width="3.2" height="16.4" fill="#63a57a" stroke="#2a6a40" stroke-width="0.9"/>
<line x1="561.74" y1="134.8" x2="561.74" y2="178.7" stroke="#8c8c8c" stroke-width="1"/>
<rect x="560.14" y="164.4" width="3.2" height="10.7" fill="#63a57a" stroke="#2a6a40" stroke-width="0.9"/>
<line x1="567.31" y1="115.8" x2="567.31" y2="164.4" stroke="#8c8c8c" stroke-width="1"/>
<rect x="565.71" y="153.0" width="3.2" height="10.2" fill="#63a57a" stroke="#2a6a40" stroke-width="0.9"/>
<line x1="572.88" y1="109.4" x2="572.88" y2="153" stroke="#8c8c8c" stroke-width="1"/>
<rect x="571.28" y="124.5" width="3.2" height="25.7" fill="#63a57a" stroke="#2a6a40" stroke-width="0.9"/>
<line x1="578.45" y1="70" x2="578.45" y2="136" stroke="#8c8c8c" stroke-width="1"/>
<rect x="576.85" y="122.2" width="3.2" height="12.8" fill="#e2533f" stroke="#9c2b1d" stroke-width="0.9"/>
<line x1="584.02" y1="115.8" x2="584.02" y2="173.4" stroke="#8c8c8c" stroke-width="1"/>
<rect x="582.42" y="133.6" width="3.2" height="38.4" fill="#e2533f" stroke="#9c2b1d" stroke-width="0.9"/>
<line x1="589.59" y1="152.5" x2="589.59" y2="189.3" stroke="#8c8c8c" stroke-width="1"/>
<rect x="587.99" y="164.4" width="3.2" height="1.2" fill="#e2533f" stroke="#9c2b1d" stroke-width="0.9"/>
<line x1="595.16" y1="151.4" x2="595.16" y2="166.8" stroke="#8c8c8c" stroke-width="1"/>
<rect x="593.56" y="159.7" width="3.2" height="2.3" fill="#63a57a" stroke="#2a6a40" stroke-width="0.9"/>
<line x1="600.73" y1="157.3" x2="600.73" y2="197.6" stroke="#8c8c8c" stroke-width="1"/>
<rect x="599.13" y="157.8" width="3.2" height="21.3" fill="#e2533f" stroke="#9c2b1d" stroke-width="0.9"/>
<line x1="606.30" y1="162" x2="606.30" y2="185.8" stroke="#8c8c8c" stroke-width="1"/>
<rect x="604.70" y="176.4" width="3.2" height="5.8" fill="#e2533f" stroke="#9c2b1d" stroke-width="0.9"/>
<line x1="611.88" y1="154.2" x2="611.88" y2="196" stroke="#8c8c8c" stroke-width="1"/>
<rect x="610.27" y="159.5" width="3.2" height="20.5" fill="#63a57a" stroke="#2a6a40" stroke-width="0.9"/>
<line x1="617.45" y1="123.7" x2="617.45" y2="159.3" stroke="#8c8c8c" stroke-width="1"/>
<rect x="615.85" y="130.9" width="3.2" height="27.9" fill="#63a57a" stroke="#2a6a40" stroke-width="0.9"/>
<line x1="623.02" y1="119.2" x2="623.02" y2="144" stroke="#8c8c8c" stroke-width="1"/>
<rect x="621.42" y="129.3" width="3.2" height="12.7" fill="#e2533f" stroke="#9c2b1d" stroke-width="0.9"/>
<line x1="628.59" y1="86.9" x2="628.59" y2="144" stroke="#8c8c8c" stroke-width="1"/>
<rect x="626.99" y="87.5" width="3.2" height="51.7" fill="#63a57a" stroke="#2a6a40" stroke-width="0.9"/>
<line x1="634.16" y1="43.2" x2="634.16" y2="95.4" stroke="#8c8c8c" stroke-width="1"/>
<rect x="632.56" y="69.0" width="3.2" height="18.4" fill="#63a57a" stroke="#2a6a40" stroke-width="0.9"/>
<line x1="639.73" y1="55.1" x2="639.73" y2="95.8" stroke="#8c8c8c" stroke-width="1"/>
<rect x="638.13" y="61.1" width="3.2" height="20.3" fill="#e2533f" stroke="#9c2b1d" stroke-width="0.9"/>
<line x1="645.30" y1="75.5" x2="645.30" y2="125.1" stroke="#8c8c8c" stroke-width="1"/>
<rect x="643.70" y="79.3" width="3.2" height="27.8" fill="#e2533f" stroke="#9c2b1d" stroke-width="0.9"/>
<line x1="650.87" y1="99.7" x2="650.87" y2="133.4" stroke="#8c8c8c" stroke-width="1"/>
<rect x="649.27" y="106.5" width="3.2" height="3.0" fill="#e2533f" stroke="#9c2b1d" stroke-width="0.9"/>
<line x1="656.44" y1="65.2" x2="656.44" y2="121.6" stroke="#8c8c8c" stroke-width="1"/>
<rect x="654.84" y="76.5" width="3.2" height="35.9" fill="#63a57a" stroke="#2a6a40" stroke-width="0.9"/>
<line x1="662.01" y1="65.7" x2="662.01" y2="141.5" stroke="#8c8c8c" stroke-width="1"/>
<rect x="660.41" y="75.0" width="3.2" height="64.5" fill="#e2533f" stroke="#9c2b1d" stroke-width="0.9"/>
<line x1="667.58" y1="80" x2="667.58" y2="145" stroke="#8c8c8c" stroke-width="1"/>
<rect x="665.98" y="92.1" width="3.2" height="47.4" fill="#63a57a" stroke="#2a6a40" stroke-width="0.9"/>
<line x1="673.15" y1="66.8" x2="673.15" y2="137.3" stroke="#8c8c8c" stroke-width="1"/>
<rect x="671.55" y="92.1" width="3.2" height="2.2" fill="#e2533f" stroke="#9c2b1d" stroke-width="0.9"/>
<line x1="678.72" y1="51.4" x2="678.72" y2="114.2" stroke="#8c8c8c" stroke-width="1"/>
<rect x="677.12" y="66.1" width="3.2" height="32.2" fill="#63a57a" stroke="#2a6a40" stroke-width="0.9"/>
<line x1="684.30" y1="20.5" x2="684.30" y2="76.7" stroke="#8c8c8c" stroke-width="1"/>
<rect x="682.70" y="66.1" width="3.2" height="4.4" fill="#e2533f" stroke="#9c2b1d" stroke-width="0.9"/>
<line x1="689.87" y1="42.5" x2="689.87" y2="126.3" stroke="#8c8c8c" stroke-width="1"/>
<rect x="688.27" y="71.9" width="3.2" height="53.3" fill="#e2533f" stroke="#9c2b1d" stroke-width="0.9"/>
<line x1="695.44" y1="92.1" x2="695.44" y2="141.6" stroke="#8c8c8c" stroke-width="1"/>
<rect x="693.84" y="96.1" width="3.2" height="25.4" fill="#63a57a" stroke="#2a6a40" stroke-width="0.9"/>
<line x1="701.01" y1="75.5" x2="701.01" y2="97" stroke="#8c8c8c" stroke-width="1"/>
<rect x="699.41" y="88.4" width="3.2" height="3.6" fill="#63a57a" stroke="#2a6a40" stroke-width="0.9"/>
<line x1="706.58" y1="79.9" x2="706.58" y2="129.4" stroke="#8c8c8c" stroke-width="1"/>
<rect x="704.98" y="83.2" width="3.2" height="42.3" fill="#e2533f" stroke="#9c2b1d" stroke-width="0.9"/>
<line x1="712.15" y1="90.9" x2="712.15" y2="128.3" stroke="#8c8c8c" stroke-width="1"/>
<rect x="710.55" y="105.2" width="3.2" height="17.2" fill="#63a57a" stroke="#2a6a40" stroke-width="0.9"/>
<line x1="717.72" y1="96.4" x2="717.72" y2="139.3" stroke="#8c8c8c" stroke-width="1"/>
<rect x="716.12" y="106.3" width="3.2" height="24.9" fill="#e2533f" stroke="#9c2b1d" stroke-width="0.9"/>
<line x1="723.29" y1="126.1" x2="723.29" y2="155.8" stroke="#8c8c8c" stroke-width="1"/>
<rect x="721.69" y="130.5" width="3.2" height="1.1" fill="#e2533f" stroke="#9c2b1d" stroke-width="0.9"/>
<line x1="728.86" y1="121.7" x2="728.86" y2="153.6" stroke="#8c8c8c" stroke-width="1"/>
<rect x="727.26" y="131.2" width="3.2" height="10.3" fill="#e2533f" stroke="#9c2b1d" stroke-width="0.9"/>
<line x1="734.43" y1="127.2" x2="734.43" y2="161.4" stroke="#8c8c8c" stroke-width="1"/>
<rect x="732.83" y="142.6" width="3.2" height="15.9" fill="#e2533f" stroke="#9c2b1d" stroke-width="0.9"/>
<line x1="740.00" y1="137.1" x2="740.00" y2="166.9" stroke="#8c8c8c" stroke-width="1"/>
<rect x="738.40" y="157.6" width="3.2" height="2.6" fill="#e2533f" stroke="#9c2b1d" stroke-width="0.9"/>
<line x1="745.57" y1="159.2" x2="745.57" y2="186.6" stroke="#8c8c8c" stroke-width="1"/>
<rect x="743.97" y="162.2" width="3.2" height="21.3" fill="#e2533f" stroke="#9c2b1d" stroke-width="0.9"/>
<line x1="751.15" y1="182.6" x2="751.15" y2="212.1" stroke="#8c8c8c" stroke-width="1"/>
<rect x="749.55" y="183.6" width="3.2" height="16.9" fill="#e2533f" stroke="#9c2b1d" stroke-width="0.9"/>
<line x1="756.72" y1="192.7" x2="756.72" y2="252.8" stroke="#8c8c8c" stroke-width="1"/>
<rect x="755.12" y="198.4" width="3.2" height="40.1" fill="#e2533f" stroke="#9c2b1d" stroke-width="0.9"/>
<line x1="762.29" y1="220.2" x2="762.29" y2="265" stroke="#8c8c8c" stroke-width="1"/>
<rect x="760.69" y="232.4" width="3.2" height="7.1" fill="#63a57a" stroke="#2a6a40" stroke-width="0.9"/>
<line x1="767.86" y1="190.7" x2="767.86" y2="236.5" stroke="#8c8c8c" stroke-width="1"/>
<rect x="766.26" y="198.4" width="3.2" height="35.0" fill="#63a57a" stroke="#2a6a40" stroke-width="0.9"/>
<line x1="773.43" y1="168.3" x2="773.43" y2="205" stroke="#8c8c8c" stroke-width="1"/>
<rect x="771.83" y="172.4" width="3.2" height="26.4" fill="#63a57a" stroke="#2a6a40" stroke-width="0.9"/>
<line x1="779.00" y1="170.3" x2="779.00" y2="207" stroke="#8c8c8c" stroke-width="1"/>
<rect x="777.40" y="173.4" width="3.2" height="33.2" fill="#e2533f" stroke="#9c2b1d" stroke-width="0.9"/>
<line x1="784.57" y1="199.9" x2="784.57" y2="232.4" stroke="#8c8c8c" stroke-width="1"/>
<rect x="782.97" y="203.9" width="3.2" height="27.9" fill="#e2533f" stroke="#9c2b1d" stroke-width="0.9"/>
<line x1="790.14" y1="218.2" x2="790.14" y2="243.6" stroke="#8c8c8c" stroke-width="1"/>
<rect x="788.54" y="218.8" width="3.2" height="11.6" fill="#63a57a" stroke="#2a6a40" stroke-width="0.9"/>
<line x1="795.71" y1="203.9" x2="795.71" y2="231.4" stroke="#8c8c8c" stroke-width="1"/>
<rect x="794.11" y="215.1" width="3.2" height="3.7" fill="#63a57a" stroke="#2a6a40" stroke-width="0.9"/>
<line x1="801.28" y1="165.3" x2="801.28" y2="221.2" stroke="#8c8c8c" stroke-width="1"/>
<rect x="799.68" y="166.2" width="3.2" height="50.8" fill="#63a57a" stroke="#2a6a40" stroke-width="0.9"/>
<line x1="806.85" y1="158.1" x2="806.85" y2="202.7" stroke="#8c8c8c" stroke-width="1"/>
<rect x="805.25" y="169.5" width="3.2" height="32.0" fill="#e2533f" stroke="#9c2b1d" stroke-width="0.9"/>
<line x1="812.42" y1="174.2" x2="812.42" y2="207.8" stroke="#8c8c8c" stroke-width="1"/>
<rect x="810.82" y="180.3" width="3.2" height="18.9" fill="#63a57a" stroke="#2a6a40" stroke-width="0.9"/>
<line x1="818.00" y1="149.8" x2="818.00" y2="177.3" stroke="#8c8c8c" stroke-width="1"/>
<rect x="816.40" y="156.5" width="3.2" height="19.8" fill="#63a57a" stroke="#2a6a40" stroke-width="0.9"/>
<line x1="823.57" y1="137.6" x2="823.57" y2="176.3" stroke="#8c8c8c" stroke-width="1"/>
<rect x="821.97" y="138.2" width="3.2" height="22.4" fill="#63a57a" stroke="#2a6a40" stroke-width="0.9"/>
<line x1="829.14" y1="135.6" x2="829.14" y2="190.5" stroke="#8c8c8c" stroke-width="1"/>
<rect x="827.54" y="137.2" width="3.2" height="25.4" fill="#e2533f" stroke="#9c2b1d" stroke-width="0.9"/>
<line x1="834.71" y1="147.8" x2="834.71" y2="194.6" stroke="#8c8c8c" stroke-width="1"/>
<rect x="833.11" y="150.4" width="3.2" height="10.6" fill="#63a57a" stroke="#2a6a40" stroke-width="0.9"/>
<line x1="840.28" y1="149.8" x2="840.28" y2="191.5" stroke="#8c8c8c" stroke-width="1"/>
<rect x="838.68" y="154.5" width="3.2" height="33.0" fill="#e2533f" stroke="#9c2b1d" stroke-width="0.9"/>
<line x1="845.85" y1="181" x2="845.85" y2="201" stroke="#8c8c8c" stroke-width="1"/>
<rect x="844.25" y="185.8" width="3.2" height="2.5" fill="#e2533f" stroke="#9c2b1d" stroke-width="0.9"/>
<line x1="851.42" y1="164.2" x2="851.42" y2="199.2" stroke="#8c8c8c" stroke-width="1"/>
<rect x="849.82" y="166.1" width="3.2" height="30.5" fill="#63a57a" stroke="#2a6a40" stroke-width="0.9"/>
<line x1="856.99" y1="139.8" x2="856.99" y2="181.9" stroke="#8c8c8c" stroke-width="1"/>
<rect x="855.39" y="142.2" width="3.2" height="29.9" fill="#63a57a" stroke="#2a6a40" stroke-width="0.9"/>
<line x1="862.56" y1="133.9" x2="862.56" y2="190.7" stroke="#8c8c8c" stroke-width="1"/>
<rect x="860.96" y="142.4" width="3.2" height="9.8" fill="#e2533f" stroke="#9c2b1d" stroke-width="0.9"/>
<line x1="868.13" y1="134.7" x2="868.13" y2="164.4" stroke="#8c8c8c" stroke-width="1"/>
<rect x="866.53" y="137.3" width="3.2" height="10.2" fill="#63a57a" stroke="#2a6a40" stroke-width="0.9"/>
<line x1="873.70" y1="117.8" x2="873.70" y2="145.8" stroke="#8c8c8c" stroke-width="1"/>
<rect x="872.10" y="124.2" width="3.2" height="18.2" fill="#63a57a" stroke="#2a6a40" stroke-width="0.9"/>
<line x1="879.27" y1="111.9" x2="879.27" y2="131.4" stroke="#8c8c8c" stroke-width="1"/>
<rect x="877.67" y="117.3" width="3.2" height="5.1" fill="#63a57a" stroke="#2a6a40" stroke-width="0.9"/>
<line x1="884.85" y1="113.6" x2="884.85" y2="154.2" stroke="#8c8c8c" stroke-width="1"/>
<rect x="883.25" y="114.4" width="3.2" height="32.7" fill="#e2533f" stroke="#9c2b1d" stroke-width="0.9"/>
<line x1="890.42" y1="154.2" x2="890.42" y2="162.7" stroke="#8c8c8c" stroke-width="1"/>
<rect x="888.82" y="156.4" width="3.2" height="3.8" fill="#e2533f" stroke="#9c2b1d" stroke-width="0.9"/>
<line x1="3" y1="160" x2="1111" y2="160" stroke="#ef5350" stroke-opacity="0.8" stroke-width="1" stroke-dasharray="1 2"/>
<line x1="3" y1="106.5" x2="1127" y2="106.5" stroke="#9598a1" stroke-width="1" stroke-dasharray="4 4"/>
<polyline points="149.50,378.77 155.07,402.45 160.64,393.06 166.21,403.98 171.78,408.36 177.35,387.71 182.92,395.11 188.49,397.29 194.06,406.40 199.63,385.64 205.20,444.31 210.77,460.13 216.35,460.60 221.92,461.72 227.49,446.85 233.06,448.41 238.63,445.28 244.20,453.06 249.77,452.54 255.34,446.16 260.91,436.52 266.48,440.55 272.05,439.64 277.62,427.84 283.20,418.87 288.77,400.22 294.34,410.78 299.91,411.09 305.48,406.23 311.05,393.34 316.62,389.01 322.19,385.73 327.76,389.40 333.33,392.19 338.90,395.07 344.47,378.92 350.05,387.20 355.62,386.85 361.19,397.40 366.76,392.12 372.33,394.85 377.90,396.96 383.47,462.77 389.04,437.53 394.61,424.55 400.18,427.61 405.75,433.74 411.32,406.17 416.90,390.86 422.47,402.04 428.04,394.91 433.61,419.39 439.18,436.73 444.75,446.06 450.32,436.60 455.89,434.52 461.46,426.53 467.03,435.90 472.60,416.97 478.17,404.84 483.75,408.29 489.32,402.57 494.89,402.58 500.46,382.46 506.03,381.44 511.60,383.12 517.17,394.01 522.74,411.90 528.31,407.52 533.88,390.44 539.45,393.72 545.02,381.52 550.60,382.31 556.17,382.20 561.74,393.24 567.31,395.27 572.88,383.81 578.45,402.52 584.02,417.37 589.59,414.80 595.16,412.44 600.73,422.34 606.30,428.96 611.88,425.15 617.45,410.65 623.02,418.51 628.59,386.66 634.16,391.25 639.73,398.37 645.30,413.13 650.87,414.51 656.44,395.55 662.01,431.73 667.58,404.51 673.15,405.78 678.72,389.72 684.30,401.69 689.87,443.32 695.44,430.27 701.01,424.79 706.58,451.21 712.15,436.75 717.72,455.27 723.29,449.24 728.86,455.73 734.43,463.27 740.00,461.04 745.57,463.45 751.15,459.73 756.72,459.64 762.29,452.11 767.86,433.94 773.43,421.77 779.00,437.12 784.57,448.19 790.14,440.80 795.71,434.22 801.28,403.97 806.85,424.24 812.42,406.38 818.00,381.59 823.57,376.85 829.14,394.93 834.71,386.57 840.28,419.04 845.85,419.70 851.42,401.47 856.99,381.85 862.56,391.22 868.13,379.52 873.70,381.92 879.27,381.42 884.85,408.98 890.42,424.50" fill="none" stroke="#2962ff" stroke-width="1.2" stroke-linejoin="round" stroke-linecap="round" />
<polyline points="160.64,391.43 166.21,399.83 171.78,401.80 177.35,400.01 182.92,397.06 188.49,393.37 194.06,399.60 199.63,396.44 205.20,412.12 210.77,430.03 216.35,455.01 221.92,460.82 227.49,456.39 233.06,452.33 238.63,446.85 244.20,448.92 249.77,450.29 255.34,450.59 260.91,445.07 266.48,441.07 272.05,438.90 277.62,436.01 283.20,428.78 288.77,415.64 294.34,409.96 299.91,407.36 305.48,409.37 311.05,403.56 316.62,396.19 322.19,389.36 327.76,388.05 333.33,389.11 338.90,392.22 344.47,388.73 350.05,387.06 355.62,384.32 361.19,390.48 366.76,392.12 372.33,394.79 377.90,394.64 383.47,418.19 389.04,432.42 394.61,441.61 400.18,429.90 405.75,428.63 411.32,422.51 416.90,410.26 422.47,399.69 428.04,395.94 433.61,405.45 439.18,417.01 444.75,434.06 450.32,439.80 455.89,439.06 461.46,432.55 467.03,432.32 472.60,426.47 478.17,419.24 483.75,410.03 489.32,405.23 494.89,404.48 500.46,395.87 506.03,388.83 511.60,382.34 517.17,386.19 522.74,396.34 528.31,404.48 533.88,403.28 539.45,397.22 545.02,388.56 550.60,385.85 556.17,382.01 561.74,385.92 567.31,390.24 572.88,390.77 578.45,393.87 584.02,401.23 589.59,411.57 595.16,414.87 600.73,416.53 606.30,421.25 611.88,425.48 617.45,421.59 623.02,418.10 628.59,405.27 634.16,398.81 639.73,392.09 645.30,400.91 650.87,408.67 656.44,407.73 662.01,413.93 667.58,410.60 673.15,414.01 678.72,400.00 684.30,399.06 689.87,411.58 695.44,425.09 701.01,432.79 706.58,435.42 712.15,437.58 717.72,447.75 723.29,447.09 728.86,453.41 734.43,456.08 740.00,460.02 745.57,462.59 751.15,461.41 756.72,460.94 762.29,457.16 767.86,448.56 773.43,435.94 779.00,430.94 784.57,435.70 790.14,442.04 795.71,441.07 801.28,426.33 806.85,420.81 812.42,411.53 818.00,404.07 823.57,388.27 829.14,384.46 834.71,386.12 840.28,400.18 845.85,408.44 851.42,413.40 856.99,401.01 862.56,391.51 868.13,384.20 873.70,384.22 879.27,380.95 884.85,390.77 890.42,404.97" fill="none" stroke="#ff6d00" stroke-width="1.2" stroke-linejoin="round" stroke-linecap="round" />
<rect x="258.91" y="526.50" width="4" height="9.04" fill="#ff5252"/>
<rect x="264.48" y="526.50" width="4" height="6.48" fill="#ffcdd2"/>
<rect x="270.05" y="526.50" width="4" height="4.20" fill="#ffcdd2"/>
<rect x="275.62" y="526.50" width="4" height="0.80" fill="#ffcdd2"/>
<rect x="281.20" y="525.12" width="4" height="1.38" fill="#26a69a"/>
<rect x="286.77" y="523.80" width="4" height="2.70" fill="#26a69a"/>
<rect x="292.34" y="524.33" width="4" height="2.17" fill="#b2dfdb"/>
<rect x="297.91" y="524.64" width="4" height="1.86" fill="#b2dfdb"/>
<rect x="303.48" y="524.36" width="4" height="2.14" fill="#26a69a"/>
<rect x="309.05" y="523.11" width="4" height="3.39" fill="#26a69a"/>
<rect x="314.62" y="521.99" width="4" height="4.51" fill="#26a69a"/>
<rect x="320.19" y="521.12" width="4" height="5.38" fill="#26a69a"/>
<rect x="325.76" y="520.71" width="4" height="5.79" fill="#26a69a"/>
<rect x="331.33" y="520.65" width="4" height="5.85" fill="#26a69a"/>
<rect x="336.90" y="520.90" width="4" height="5.60" fill="#b2dfdb"/>
<rect x="342.47" y="520.30" width="4" height="6.20" fill="#26a69a"/>
<rect x="348.05" y="520.30" width="4" height="6.20" fill="#26a69a"/>
<rect x="353.62" y="519.83" width="4" height="6.67" fill="#26a69a"/>
<rect x="359.19" y="520.47" width="4" height="6.03" fill="#b2dfdb"/>
<rect x="364.76" y="520.69" width="4" height="5.81" fill="#b2dfdb"/>
<rect x="370.33" y="521.28" width="4" height="5.22" fill="#b2dfdb"/>
<rect x="375.90" y="521.91" width="4" height="4.59" fill="#b2dfdb"/>
<rect x="381.47" y="525.48" width="4" height="1.02" fill="#b2dfdb"/>
<rect x="387.04" y="526.50" width="4" height="0.80" fill="#ff5252"/>
<rect x="392.61" y="526.50" width="4" height="0.80" fill="#ff5252"/>
<rect x="398.18" y="526.50" width="4" height="0.80" fill="#ff5252"/>
<rect x="403.75" y="526.50" width="4" height="0.80" fill="#ff5252"/>
<rect x="409.32" y="526.11" width="4" height="0.80" fill="#26a69a"/>
<rect x="414.90" y="524.33" width="4" height="2.17" fill="#26a69a"/>
<rect x="420.47" y="523.92" width="4" height="2.58" fill="#26a69a"/>
<rect x="426.04" y="523.43" width="4" height="3.07" fill="#26a69a"/>
<rect x="431.61" y="524.58" width="4" height="1.92" fill="#b2dfdb"/>
<rect x="437.18" y="526.34" width="4" height="0.80" fill="#b2dfdb"/>
<rect x="442.75" y="526.50" width="4" height="2.87" fill="#ff5252"/>
<rect x="448.32" y="526.50" width="4" height="4.75" fill="#ff5252"/>
<rect x="453.89" y="526.50" width="4" height="5.51" fill="#ff5252"/>
<rect x="459.46" y="526.50" width="4" height="5.00" fill="#ffcdd2"/>
<rect x="465.03" y="526.50" width="4" height="5.21" fill="#ff5252"/>
<rect x="470.60" y="526.50" width="4" height="3.40" fill="#ffcdd2"/>
<rect x="476.17" y="526.50" width="4" height="1.01" fill="#ffcdd2"/>
<rect x="481.75" y="526.21" width="4" height="0.80" fill="#26a69a"/>
<rect x="487.32" y="524.88" width="4" height="1.62" fill="#26a69a"/>
<rect x="492.89" y="524.18" width="4" height="2.32" fill="#26a69a"/>
<rect x="498.46" y="522.26" width="4" height="4.24" fill="#26a69a"/>
<rect x="504.03" y="521.18" width="4" height="5.32" fill="#26a69a"/>
<rect x="509.60" y="519.70" width="4" height="6.80" fill="#26a69a"/>
<rect x="515.17" y="519.25" width="4" height="7.25" fill="#26a69a"/>
<rect x="520.74" y="521.36" width="4" height="5.14" fill="#b2dfdb"/>
<rect x="526.31" y="521.87" width="4" height="4.63" fill="#b2dfdb"/>
<rect x="531.88" y="520.83" width="4" height="5.67" fill="#26a69a"/>
<rect x="537.45" y="519.47" width="4" height="7.03" fill="#26a69a"/>
<rect x="543.02" y="517.79" width="4" height="8.71" fill="#26a69a"/>
<rect x="548.60" y="516.34" width="4" height="10.16" fill="#26a69a"/>
<rect x="554.17" y="514.83" width="4" height="11.67" fill="#26a69a"/>
<rect x="559.74" y="513.52" width="4" height="12.98" fill="#26a69a"/>
<rect x="565.31" y="512.59" width="4" height="13.91" fill="#26a69a"/>
<rect x="570.88" y="510.52" width="4" height="15.98" fill="#26a69a"/>
<rect x="576.45" y="511.19" width="4" height="15.31" fill="#b2dfdb"/>
<rect x="582.02" y="515.83" width="4" height="10.67" fill="#b2dfdb"/>
<rect x="587.59" y="519.05" width="4" height="7.45" fill="#b2dfdb"/>
<rect x="593.16" y="521.28" width="4" height="5.22" fill="#b2dfdb"/>
<rect x="598.73" y="524.92" width="4" height="1.58" fill="#b2dfdb"/>
<rect x="604.30" y="526.50" width="4" height="1.39" fill="#ff5252"/>
<rect x="609.88" y="526.50" width="4" height="1.57" fill="#ff5252"/>
<rect x="615.45" y="526.00" width="4" height="0.80" fill="#26a69a"/>
<rect x="621.02" y="526.00" width="4" height="0.80" fill="#26a69a"/>
<rect x="626.59" y="521.73" width="4" height="4.77" fill="#26a69a"/>
<rect x="632.16" y="518.07" width="4" height="8.43" fill="#26a69a"/>
<rect x="637.73" y="517.63" width="4" height="8.87" fill="#26a69a"/>
<rect x="643.30" y="520.37" width="4" height="6.13" fill="#b2dfdb"/>
<rect x="648.87" y="523.01" width="4" height="3.49" fill="#b2dfdb"/>
<rect x="654.44" y="522.45" width="4" height="4.05" fill="#26a69a"/>
<rect x="660.01" y="526.50" width="4" height="1.56" fill="#ff5252"/>
<rect x="665.58" y="526.50" width="4" height="1.38" fill="#ffcdd2"/>
<rect x="671.15" y="526.50" width="4" height="1.79" fill="#ff5252"/>
<rect x="676.72" y="526.45" width="4" height="0.80" fill="#26a69a"/>
<rect x="682.30" y="526.07" width="4" height="0.80" fill="#26a69a"/>
<rect x="687.87" y="526.50" width="4" height="4.40" fill="#ff5252"/>
<rect x="693.44" y="526.50" width="4" height="5.12" fill="#ff5252"/>
<rect x="699.01" y="526.50" width="4" height="5.02" fill="#ffcdd2"/>
<rect x="704.58" y="526.50" width="4" height="8.21" fill="#ff5252"/>
<rect x="710.15" y="526.50" width="4" height="8.41" fill="#ff5252"/>
<rect x="715.72" y="526.50" width="4" height="10.63" fill="#ff5252"/>
<rect x="721.29" y="526.50" width="4" height="11.80" fill="#ff5252"/>
<rect x="726.86" y="526.50" width="4" height="13.03" fill="#ff5252"/>
<rect x="732.43" y="526.50" width="4" height="14.81" fill="#ff5252"/>
<rect x="738.00" y="526.50" width="4" height="15.51" fill="#ff5252"/>
<rect x="743.57" y="526.50" width="4" height="17.29" fill="#ff5252"/>
<rect x="749.15" y="526.50" width="4" height="19.08" fill="#ff5252"/>
<rect x="754.72" y="526.50" width="4" height="22.52" fill="#ff5252"/>
<rect x="760.29" y="526.50" width="4" height="23.03" fill="#ff5252"/>
<rect x="765.86" y="526.50" width="4" height="19.24" fill="#ffcdd2"/>
<rect x="771.43" y="526.50" width="4" height="13.60" fill="#ffcdd2"/>
<rect x="777.00" y="526.50" width="4" height="12.17" fill="#ffcdd2"/>
<rect x="782.57" y="526.50" width="4" height="12.67" fill="#ff5252"/>
<rect x="788.14" y="526.50" width="4" height="11.07" fill="#ffcdd2"/>
<rect x="793.71" y="526.50" width="4" height="9.01" fill="#ffcdd2"/>
<rect x="799.28" y="526.50" width="4" height="2.91" fill="#ffcdd2"/>
<rect x="804.85" y="526.50" width="4" height="1.74" fill="#ffcdd2"/>
<rect x="810.42" y="525.42" width="4" height="1.08" fill="#26a69a"/>
<rect x="816.00" y="521.49" width="4" height="5.01" fill="#26a69a"/>
<rect x="821.57" y="517.56" width="4" height="8.94" fill="#26a69a"/>
<rect x="827.14" y="517.47" width="4" height="9.03" fill="#26a69a"/>
<rect x="832.71" y="516.71" width="4" height="9.79" fill="#26a69a"/>
<rect x="838.28" y="519.78" width="4" height="6.72" fill="#b2dfdb"/>
<rect x="843.85" y="522.02" width="4" height="4.48" fill="#b2dfdb"/>
<rect x="849.42" y="521.68" width="4" height="4.82" fill="#26a69a"/>
<rect x="854.99" y="519.61" width="4" height="6.89" fill="#26a69a"/>
<rect x="860.56" y="519.45" width="4" height="7.05" fill="#26a69a"/>
<rect x="866.13" y="518.41" width="4" height="8.09" fill="#26a69a"/>
<rect x="871.70" y="517.04" width="4" height="9.46" fill="#26a69a"/>
<rect x="877.27" y="516.08" width="4" height="10.42" fill="#26a69a"/>
<rect x="882.85" y="518.56" width="4" height="7.94" fill="#b2dfdb"/>
<rect x="888.42" y="521.68" width="4" height="4.82" fill="#b2dfdb"/>
<polyline points="260.91,544.28 266.48,545.90 272.05,546.95 277.62,547.02 283.20,546.68 288.77,546.00 294.34,545.46 299.91,544.99 305.48,544.46 311.05,543.61 316.62,542.48 322.19,541.14 327.76,539.69 333.33,538.23 338.90,536.83 344.47,535.28 350.05,533.73 355.62,532.06 361.19,530.55 366.76,529.10 372.33,527.79 377.90,526.64 383.47,526.39 389.04,526.41 394.61,526.44 400.18,526.52 405.75,526.70 411.32,526.60 416.90,526.06 422.47,525.41 428.04,524.64 433.61,524.16 439.18,524.12 444.75,524.84 450.32,526.03 455.89,527.40 461.46,528.65 467.03,529.96 472.60,530.81 478.17,531.06 483.75,530.98 489.32,530.58 494.89,530.00 500.46,528.94 506.03,527.61 511.60,525.91 517.17,524.10 522.74,522.81 528.31,521.66 533.88,520.24 539.45,518.48 545.02,516.30 550.60,513.76 556.17,510.84 561.74,507.60 567.31,504.12 572.88,500.13 578.45,496.30 584.02,493.63 589.59,491.77 595.16,490.47 600.73,490.07 606.30,490.42 611.88,490.81 617.45,490.69 623.02,490.56 628.59,489.37 634.16,487.26 639.73,485.04 645.30,483.51 650.87,482.64 656.44,481.63 662.01,482.02 667.58,482.37 673.15,482.81 678.72,482.80 684.30,482.69 689.87,483.79 695.44,485.07 701.01,486.33 706.58,488.38 712.15,490.48 717.72,493.14 723.29,496.09 728.86,499.35 734.43,503.05 740.00,506.93 745.57,511.25 751.15,516.02 756.72,521.65 762.29,527.41 767.86,532.22 773.43,535.62 779.00,538.66 784.57,541.83 790.14,544.60 795.71,546.85 801.28,547.58 806.85,548.01 812.42,547.74 818.00,546.49 823.57,544.25 829.14,542.00 834.71,539.55 840.28,537.87 845.85,536.75 851.42,535.54 856.99,533.82 862.56,532.06 868.13,530.04 873.70,527.67 879.27,525.07 884.85,523.08 890.42,521.88" fill="none" stroke="#ff6d00" stroke-width="1.2" stroke-linejoin="round" stroke-linecap="round" />
<polyline points="216.35,520.18 221.92,532.63 227.49,539.08 233.06,544.33 238.63,547.56 244.20,551.54 249.77,554.60 255.34,555.26 260.91,553.32 266.48,552.38 272.05,551.15 277.62,547.30 283.20,545.30 288.77,543.30 294.34,543.29 299.91,543.13 305.48,542.32 311.05,540.22 316.62,537.98 322.19,535.76 327.76,533.90 333.33,532.37 338.90,531.23 344.47,529.08 350.05,527.53 355.62,525.39 361.19,524.52 366.76,523.29 372.33,522.57 377.90,522.05 383.47,525.37 389.04,526.48 394.61,526.58 400.18,526.84 405.75,527.40 411.32,526.20 416.90,523.88 422.47,522.82 428.04,521.57 433.61,522.25 439.18,523.96 444.75,527.71 450.32,530.78 455.89,532.92 461.46,533.66 467.03,535.16 472.60,534.21 478.17,532.06 483.75,530.69 489.32,528.96 494.89,527.67 500.46,524.70 506.03,522.29 511.60,519.11 517.17,516.85 522.74,517.68 528.31,517.02 533.88,514.57 539.45,511.45 545.02,507.59 550.60,503.61 556.17,499.17 561.74,494.62 567.31,490.21 572.88,484.15 578.45,480.99 584.02,482.96 589.59,484.32 595.16,485.25 600.73,488.50 606.30,491.81 611.88,492.38 617.45,490.19 623.02,490.07 628.59,484.60 634.16,478.83 639.73,476.17 645.30,477.39 650.87,479.15 656.44,477.58 662.01,483.58 667.58,483.75 673.15,484.60 678.72,482.75 684.30,482.27 689.87,488.20 695.44,490.19 701.01,491.35 706.58,496.60 712.15,498.89 717.72,503.77 723.29,507.89 728.86,512.38 734.43,517.86 740.00,522.43 745.57,528.54 751.15,535.10 756.72,544.17 762.29,550.43 767.86,551.46 773.43,549.22 779.00,550.84 784.57,554.50 790.14,555.67 795.71,555.86 801.28,550.49 806.85,549.75 812.42,546.66 818.00,541.48 823.57,535.31 829.14,532.97 834.71,529.76 840.28,531.15 845.85,532.27 851.42,530.72 856.99,526.93 862.56,525.01 868.13,521.95 873.70,518.21 879.27,514.64 884.85,515.14 890.42,517.06" fill="none" stroke="#2962ff" stroke-width="1.2" stroke-linejoin="round" stroke-linecap="round" />
<circle cx="21" cy="18.8" r="9" fill="#0b3b95"/>
<rect x="18.9" y="14.8" width="7.2" height="8.2" fill="#fff"/>
<path d="M18.9,14.8 A4.1,4.1 0 0 0 18.9,23 Z" fill="#fff"/>
<path d="M19.4,15.1 A3.9,3.9 0 0 1 19.4,22.7 Z" fill="#0b3b95"/>
<text x="34.7" y="25.3" font-family="Liberation Sans, sans-serif" font-size="15.2" fill="#474a50" font-weight="normal" text-anchor="start" textLength="42" lengthAdjust="spacingAndGlyphs"  stroke="#474a50" stroke-width="0.1">CWEN</text>
<path d="M102,10 L113.4,10 L113.4,27.8 L102,27.8 A8.9,8.9 0 0 1 102,10 Z" fill="#fef2e2"/>
<path d="M113.4,10 L125.2,10 A8.9,8.9 0 0 1 125.2,27.8 L113.4,27.8 Z" fill="#fbdfe9"/>
<path d="M100,22.6 A3.6,3.6 0 0 1 107.2,22.6 Z" fill="#ff8c00"/>
<circle cx="100.8" cy="15" r="0.95" fill="#ff8c00"/>
<circle cx="106.3" cy="15" r="0.95" fill="#ff8c00"/>
<circle cx="97.7" cy="18.9" r="0.95" fill="#ff8c00"/>
<circle cx="109.5" cy="18.9" r="0.95" fill="#ff8c00"/>
<path d="M118.2,17.5 C119.8,15.499999999999998 121.2,16.5 122.5,17.299999999999997 C123.8,18.099999999999998 125.2,17.799999999999997 126.8,15.999999999999998" fill="none" stroke="#d6195f" stroke-width="1.5" stroke-linecap="round"/>
<path d="M118.2,21.6 C119.8,19.6 121.2,20.6 122.5,21.4 C123.8,22.2 125.2,21.9 126.8,20.1" fill="none" stroke="#d6195f" stroke-width="1.5" stroke-linecap="round"/>
<text x="150.6" y="24" font-family="Liberation Sans, sans-serif" font-size="13" fill="#585c63" font-weight="normal" text-anchor="start"  stroke="#585c63" stroke-width="0.25">O</text>
<text x="160.6" y="24" font-family="Liberation Sans, sans-serif" font-size="13" fill="#31714b" font-weight="normal" text-anchor="start" textLength="32" lengthAdjust="spacingAndGlyphs"  stroke="#31714b" stroke-width="0.25">17.05</text>
<text x="199.7" y="24" font-family="Liberation Sans, sans-serif" font-size="13" fill="#585c63" font-weight="normal" text-anchor="start"  stroke="#585c63" stroke-width="0.25">H</text>
<text x="210" y="24" font-family="Liberation Sans, sans-serif" font-size="13" fill="#31714b" font-weight="normal" text-anchor="start" textLength="31.3" lengthAdjust="spacingAndGlyphs"  stroke="#31714b" stroke-width="0.25">18.10</text>
<text x="248.7" y="24" font-family="Liberation Sans, sans-serif" font-size="13" fill="#585c63" font-weight="normal" text-anchor="start"  stroke="#585c63" stroke-width="0.25">L</text>
<text x="256.9" y="24" font-family="Liberation Sans, sans-serif" font-size="13" fill="#31714b" font-weight="normal" text-anchor="start" textLength="31.2" lengthAdjust="spacingAndGlyphs"  stroke="#31714b" stroke-width="0.25">16.75</text>
<text x="295.5" y="24" font-family="Liberation Sans, sans-serif" font-size="13" fill="#585c63" font-weight="normal" text-anchor="start"  stroke="#585c63" stroke-width="0.25">C</text>
<text x="304.7" y="24" font-family="Liberation Sans, sans-serif" font-size="13" fill="#31714b" font-weight="normal" text-anchor="start" textLength="32" lengthAdjust="spacingAndGlyphs"  stroke="#31714b" stroke-width="0.25">17.80</text>
<text x="344.1" y="24" font-family="Liberation Sans, sans-serif" font-size="13" fill="#31714b" font-weight="normal" text-anchor="start" textLength="32" lengthAdjust="spacingAndGlyphs"  stroke="#31714b" stroke-width="0.25">+0.80</text>
<text x="380.8" y="24" font-family="Liberation Sans, sans-serif" font-size="13" fill="#31714b" font-weight="normal" text-anchor="start" textLength="54" lengthAdjust="spacingAndGlyphs"  stroke="#31714b" stroke-width="0.25">(+4.71%)</text>
<text x="437.7" y="24" font-family="Liberation Sans, sans-serif" font-size="13" fill="#585c63" font-weight="normal" text-anchor="start"  stroke="#585c63" stroke-width="0.25">Vol</text>
<text x="459" y="24" font-family="Liberation Sans, sans-serif" font-size="13" fill="#31714b" font-weight="normal" text-anchor="start" textLength="42" lengthAdjust="spacingAndGlyphs"  stroke="#31714b" stroke-width="0.25">10.69M</text>
<rect x="11.1" y="35.8" width="55.1" height="34.1" rx="6" fill="#fff" stroke="#f7525f" stroke-width="1"/>
<text x="38.6" y="50" font-family="Liberation Sans, sans-serif" font-size="12.5" fill="#f23645" font-weight="bold" text-anchor="middle" textLength="32.7" lengthAdjust="spacingAndGlyphs" >28.62</text>
<text x="38" y="64" font-family="Liberation Sans, sans-serif" font-size="11.5" fill="#f23645" font-weight="normal" text-anchor="middle" textLength="23.4" lengthAdjust="spacingAndGlyphs"  stroke="#f23645" stroke-width="0.25">SELL</text>
<text x="75" y="55.6" font-family="Liberation Sans, sans-serif" font-size="11.5" fill="#131722" font-weight="normal" text-anchor="start" textLength="19.3" lengthAdjust="spacingAndGlyphs"  stroke="#131722" stroke-width="0.25">0.68</text>
<rect x="103.5" y="35.8" width="55" height="34.1" rx="6" fill="#fff" stroke="#2962ff" stroke-width="1"/>
<text x="131" y="50" font-family="Liberation Sans, sans-serif" font-size="12.5" fill="#2962ff" font-weight="bold" text-anchor="middle" textLength="32" lengthAdjust="spacingAndGlyphs" >29.30</text>
<text x="130.7" y="64" font-family="Liberation Sans, sans-serif" font-size="11.5" fill="#2962ff" font-weight="normal" text-anchor="middle" textLength="20.7" lengthAdjust="spacingAndGlyphs"  stroke="#2962ff" stroke-width="0.25">BUY</text>
<rect x="10" y="80.8" width="95" height="2.4" fill="#fff"/>
<text x="12" y="91.2" font-family="Liberation Sans, sans-serif" font-size="12.5" fill="#585c63" font-weight="normal" text-anchor="start" textLength="23.5" lengthAdjust="spacingAndGlyphs"  stroke="#585c63" stroke-width="0.25">EMA</text>
<circle cx="53.4" cy="86.8" r="9" fill="#ebe2ff"/><path d="M48.86,84.96 A4.9,4.9 0 0 1 57.94,84.96" fill="none" stroke="#6d2cf6" stroke-width="1.8"/><path d="M57.94,88.64 A4.9,4.9 0 0 1 48.86,88.64" fill="none" stroke="#6d2cf6" stroke-width="1.8"/><path d="M56.40,84.20 L60.40,85.20 L57.40,87.70 Z" fill="#6d2cf6"/><path d="M50.40,89.40 L46.40,88.40 L49.40,85.90 Z" fill="#6d2cf6"/>
<text x="72.2" y="91.2" font-family="Liberation Sans, sans-serif" font-size="12.5" fill="#2962ff" font-weight="normal" text-anchor="start" textLength="30.8" lengthAdjust="spacingAndGlyphs"  stroke="#2962ff" stroke-width="0.25">17.67</text>
<text x="12" y="115.7" font-family="Liberation Sans, sans-serif" font-size="12.5" fill="#585c63" font-weight="normal" text-anchor="start" textLength="23.5" lengthAdjust="spacingAndGlyphs"  stroke="#585c63" stroke-width="0.25">EMA</text>
<circle cx="53.4" cy="111.2" r="9" fill="#ebe2ff"/><path d="M48.86,109.36 A4.9,4.9 0 0 1 57.94,109.36" fill="none" stroke="#6d2cf6" stroke-width="1.8"/><path d="M57.94,113.04 A4.9,4.9 0 0 1 48.86,113.04" fill="none" stroke="#6d2cf6" stroke-width="1.8"/><path d="M56.40,108.60 L60.40,109.60 L57.40,112.10 Z" fill="#6d2cf6"/><path d="M50.40,113.80 L46.40,112.80 L49.40,110.30 Z" fill="#6d2cf6"/>
<text x="71.1" y="115.7" font-family="Liberation Sans, sans-serif" font-size="12.3" fill="#131722" font-weight="normal" text-anchor="start" >Ø</text>
<text x="12" y="140.5" font-family="Liberation Sans, sans-serif" font-size="12.5" fill="#585c63" font-weight="normal" text-anchor="start" textLength="17" lengthAdjust="spacingAndGlyphs"  stroke="#585c63" stroke-width="0.25">Vol</text>
<text x="38.6" y="140.5" font-family="Liberation Sans, sans-serif" font-size="12.5" fill="#22ab94" font-weight="normal" text-anchor="start" textLength="43.7" lengthAdjust="spacingAndGlyphs"  stroke="#22ab94" stroke-width="0.25">10.69 M</text>
<text x="12" y="164.5" font-family="Liberation Sans, sans-serif" font-size="12.5" fill="#585c63" font-weight="normal" text-anchor="start" textLength="23.5" lengthAdjust="spacingAndGlyphs"  stroke="#585c63" stroke-width="0.25">EMA</text>
<text x="45.7" y="164.5" font-family="Liberation Sans, sans-serif" font-size="12.5" fill="#22ab94" font-weight="normal" text-anchor="start" textLength="31.5" lengthAdjust="spacingAndGlyphs"  stroke="#22ab94" stroke-width="0.25">17.95</text>
<rect x="11.5" y="176.5" width="28.5" height="21" rx="3" fill="#fff" stroke="#e0e3eb" stroke-width="1"/>
<path d="M21.5,188.2 L25.5,184.4 L29.5,188.2" fill="none" stroke="#131722" stroke-width="1.4"/>
<rect x="380" y="19" width="184" height="52" rx="3" fill="#fff" stroke="#131313" stroke-width="2"/>
<text x="386.1" y="40.1" font-family="Liberation Sans, sans-serif" font-size="20.3" fill="#000" font-weight="normal" text-anchor="start" textLength="172" lengthAdjust="spacingAndGlyphs" >Analysts' revisions</text>
<text x="386.1" y="64.3" font-family="Liberation Sans, sans-serif" font-size="20.3" fill="#000" font-weight="normal" text-anchor="start" textLength="160.5" lengthAdjust="spacingAndGlyphs" >lead to this range</text>
<line x1="564.6" y1="45.6" x2="916" y2="45.6" stroke="#131313" stroke-width="1.6"/>
<path d="M914.9,37.2 L932,45.6 L914.9,54 Z" fill="#000" stroke="#000" stroke-width="1" stroke-linejoin="round"/>
<line x1="564.6" y1="67.9" x2="927" y2="67.9" stroke="#131313" stroke-width="1.6"/>
<path d="M925.9,60 L942.8,67.8 L925.9,75.5 Z" fill="#000" stroke="#000" stroke-width="1" stroke-linejoin="round"/>
<line x1="952.8" y1="276" x2="919.5" y2="211.5" stroke="#131313" stroke-width="1.6"/>
<path d="M910.7,198.1 L926.8,208.8 L911.3,216.4 Z" fill="#000" stroke="#000" stroke-width="1" stroke-linejoin="round"/>
<rect x="821" y="277" width="292" height="52" rx="3" fill="#fff" stroke="#131313" stroke-width="2"/>
<text x="826.8" y="297.8" font-family="Liberation Sans, sans-serif" font-size="20.3" fill="#000" font-weight="normal" text-anchor="start" textLength="258.7" lengthAdjust="spacingAndGlyphs" >Wel-supported CWEN pulls</text>
<text x="832.9" y="322" font-family="Liberation Sans, sans-serif" font-size="20.3" fill="#000" font-weight="normal" text-anchor="start" textLength="274.5" lengthAdjust="spacingAndGlyphs" >back to a critical support level</text>
<rect x="1149" y="3" width="51" height="558" fill="#fff"/>
<rect x="1091" y="8" width="22.5" height="22.5" rx="4" fill="#fff" stroke="#f0f1f3" stroke-width="1"/>
<path d="M1101.8,14.2 L1101.8,24.2 M1098.1,20.6 L1101.8,24.3 L1105.5,20.6" fill="none" stroke="#131722" stroke-width="1.3"/>
<rect x="1119.5" y="7.5" width="23" height="23" rx="4" fill="#fff" stroke="#f0f1f3" stroke-width="1"/>
<path d="M1125.5,17.3 L1125.5,16 Q1125.5,14.1 1127.4,14.1 L1133.7,14.1 Q1135.6,14.1 1135.6,16 L1135.6,17.3 M1125.5,21.1 L1125.5,22.3 Q1125.5,24.2 1127.4,24.2 L1133.7,24.2 Q1135.6,24.2 1135.6,22.3 L1135.6,21.1" fill="none" stroke="#131722" stroke-width="1.3"/>
<rect x="1152" y="7.5" width="44.5" height="25" rx="5" fill="#fff" stroke="#f0f1f3" stroke-width="1"/>
<text x="1155.6" y="24.5" font-family="Liberation Sans, sans-serif" font-size="13" fill="#131722" font-weight="normal" text-anchor="start" textLength="21.5" lengthAdjust="spacingAndGlyphs"  stroke="#131722" stroke-width="0.25">USD</text>
<path d="M1186.3,19.3 L1188.6,21.3 L1190.9,19.3" fill="none" stroke="#131722" stroke-width="1.3"/>
<text x="1184.5" y="43.699999999999996" font-family="Liberation Sans, sans-serif" font-size="11" fill="#555960" font-weight="normal" text-anchor="end" textLength="27.4" lengthAdjust="spacingAndGlyphs"  stroke="#555960" stroke-width="0.25">40.00</text>
<text x="1184.5" y="85.9" font-family="Liberation Sans, sans-serif" font-size="11" fill="#555960" font-weight="normal" text-anchor="end" textLength="27.4" lengthAdjust="spacingAndGlyphs"  stroke="#555960" stroke-width="0.25">36.00</text>
<text x="1184.5" y="128.1" font-family="Liberation Sans, sans-serif" font-size="11" fill="#555960" font-weight="normal" text-anchor="end" textLength="27.4" lengthAdjust="spacingAndGlyphs"  stroke="#555960" stroke-width="0.25">32.00</text>
<text x="1184.5" y="212.4" font-family="Liberation Sans, sans-serif" font-size="11" fill="#555960" font-weight="normal" text-anchor="end" textLength="27.4" lengthAdjust="spacingAndGlyphs"  stroke="#555960" stroke-width="0.25">24.00</text>
<text x="1184.5" y="254.6" font-family="Liberation Sans, sans-serif" font-size="11" fill="#555960" font-weight="normal" text-anchor="end" textLength="27.4" lengthAdjust="spacingAndGlyphs"  stroke="#555960" stroke-width="0.25">20.00</text>
<text x="1184.5" y="296.79999999999995" font-family="Liberation Sans, sans-serif" font-size="11" fill="#555960" font-weight="normal" text-anchor="end" textLength="27.4" lengthAdjust="spacingAndGlyphs"  stroke="#555960" stroke-width="0.25">16.00</text>
<text x="1184.5" y="339.0" font-family="Liberation Sans, sans-serif" font-size="11" fill="#555960" font-weight="normal" text-anchor="end" textLength="27.4" lengthAdjust="spacingAndGlyphs"  stroke="#555960" stroke-width="0.25">12.00</text>
<text x="1184.5" y="398.09999999999997" font-family="Liberation Sans, sans-serif" font-size="11" fill="#555960" font-weight="normal" text-anchor="end"  stroke="#555960" stroke-width="0.25">80.00</text>
<text x="1184.5" y="433.59999999999997" font-family="Liberation Sans, sans-serif" font-size="11" fill="#555960" font-weight="normal" text-anchor="end"  stroke="#555960" stroke-width="0.25">40.00</text>
<text x="1184.5" y="469.0" font-family="Liberation Sans, sans-serif" font-size="11" fill="#555960" font-weight="normal" text-anchor="end"  stroke="#555960" stroke-width="0.25">0.00</text>
<text x="1178.6" y="494.8" font-family="Liberation Sans, sans-serif" font-size="11" fill="#555960" font-weight="normal" text-anchor="end"  stroke="#555960" stroke-width="0.25">2.50</text>
<rect x="1150" y="33" width="49" height="3.8" fill="#fff"/>
<text x="1178.6" y="530" font-family="Liberation Sans, sans-serif" font-size="11" fill="#555960" font-weight="normal" text-anchor="end"  stroke="#555960" stroke-width="0.25">0.00</text>
<rect x="1127.1" y="96.3" width="62.200000000000045" height="19.60000000000001" rx="2" fill="#131722"/><text x="1185.3" y="110.0" font-family="Liberation Sans, sans-serif" font-size="11.2" fill="#fff" font-weight="normal" text-anchor="end"  stroke="#fff" stroke-width="0.6">33.70</text>
<circle cx="1137.3" cy="106.3" r="6.6" fill="none" stroke="#fff" stroke-width="1"/>
<path d="M1133.8,106.3 L1140.8,106.3 M1137.3,102.8 L1137.3,109.8" stroke="#fff" stroke-width="1"/>
<rect x="1148" y="121" width="41.299999999999955" height="14.800000000000011" rx="2" fill="#2962ff"/><text x="1185.3" y="132.3" font-family="Liberation Sans, sans-serif" font-size="11.2" fill="#fff" font-weight="normal" text-anchor="end"  stroke="#fff" stroke-width="0.6">29.95</text>
<rect x="1148" y="136.6" width="41.299999999999955" height="14.800000000000011" rx="2" fill="#089981"/><text x="1185.3" y="147.9" font-family="Liberation Sans, sans-serif" font-size="11.2" fill="#fff" font-weight="normal" text-anchor="end"  stroke="#fff" stroke-width="0.6">28.64</text>
<rect x="1110.7" y="152.7" width="83.9" height="15.3" rx="2" fill="#de5949"/>
<text x="1113.5" y="164.3" font-family="Liberation Sans, sans-serif" font-size="11" fill="#fff" font-weight="bold" text-anchor="start" textLength="29" lengthAdjust="spacingAndGlyphs" >CWEN</text>
<text x="1191.5" y="164.3" font-family="Liberation Sans, sans-serif" font-size="11" fill="#fbd0ca" font-weight="normal" text-anchor="end" textLength="30.5" lengthAdjust="spacingAndGlyphs"  stroke="#fbd0ca" stroke-width="0.25">14d 8h</text>
<rect x="1148" y="168.3" width="41.299999999999955" height="14.899999999999977" rx="2" fill="#ff9800"/><text x="1185.3" y="179.65" font-family="Liberation Sans, sans-serif" font-size="11.2" fill="#131722" font-weight="normal" text-anchor="end"  stroke="#131722" stroke-width="0.6">27.38</text>
<rect x="1148" y="341.9" width="44.40000000000009" height="14.700000000000045" rx="2" fill="#f05350"/><text x="1188.5" y="353.15" font-family="Liberation Sans, sans-serif" font-size="11.2" fill="#fff" font-weight="normal" text-anchor="end"  stroke="#fff" stroke-width="0.35">9.39M</text>
<rect x="1148" y="397.3" width="41.59999999999991" height="15.5" rx="2" fill="#ff6d00"/><text x="1185.3" y="408.95" font-family="Liberation Sans, sans-serif" font-size="11.2" fill="#fff" font-weight="normal" text-anchor="end"  stroke="#fff" stroke-width="0.35">68.16</text>
<rect x="1148" y="415.4" width="41.59999999999991" height="15.200000000000045" rx="2" fill="#2962ff"/><text x="1185.3" y="426.9" font-family="Liberation Sans, sans-serif" font-size="11.2" fill="#fff" font-weight="normal" text-anchor="end"  stroke="#fff" stroke-width="0.35">47.87</text>
<rect x="1148" y="498.4" width="46.799999999999955" height="14.200000000000045" rx="2" fill="#2962ff"/><text x="1191.2" y="509.4" font-family="Liberation Sans, sans-serif" font-size="11.2" fill="#fff" font-weight="normal" text-anchor="end"  stroke="#fff" stroke-width="0.35">0.6713</text>
<rect x="1148" y="514.4" width="46.799999999999955" height="14.200000000000045" rx="2" fill="#b2dfdb"/><text x="1191.2" y="525.4" font-family="Liberation Sans, sans-serif" font-size="11.2" fill="#131722" font-weight="normal" text-anchor="end"  stroke="#131722" stroke-width="0.35">0.3449</text>
<rect x="1148" y="530.4" width="46.799999999999955" height="14.600000000000023" rx="2" fill="#ff6d00"/><text x="1191.2" y="541.6" font-family="Liberation Sans, sans-serif" font-size="11.2" fill="#fff" font-weight="normal" text-anchor="end"  stroke="#fff" stroke-width="0.35">0.3264</text>
<line x1="1148" y1="2.5" x2="1148" y2="589" stroke="#999a9e" stroke-width="2"/>
<line x1="3" y1="370.5" x2="1200" y2="370.5" stroke="#e0e3eb" stroke-width="1"/>
<line x1="3" y1="470.4" x2="1200" y2="470.4" stroke="#e0e3eb" stroke-width="1.2"/>
<rect x="3" y="562.5" width="1145" height="26.5" fill="#fff"/>
<line x1="3" y1="561.7" x2="1200" y2="561.7" stroke="#999a9e" stroke-width="2"/>
<text x="110.5" y="579.4" font-family="Liberation Sans, sans-serif" font-size="11.5" fill="#3a3d44" font-weight="normal" text-anchor="middle" textLength="25.3" lengthAdjust="spacing"  stroke="#3a3d44" stroke-width="0.45">2014</text>
<text x="177.3" y="579.4" font-family="Liberation Sans, sans-serif" font-size="11.5" fill="#3a3d44" font-weight="normal" text-anchor="middle" textLength="25.3" lengthAdjust="spacing"  stroke="#3a3d44" stroke-width="0.45">2015</text>
<text x="244.2" y="579.4" font-family="Liberation Sans, sans-serif" font-size="11.5" fill="#3a3d44" font-weight="normal" text-anchor="middle" textLength="25.3" lengthAdjust="spacing"  stroke="#3a3d44" stroke-width="0.45">2016</text>
<text x="311.0" y="579.4" font-family="Liberation Sans, sans-serif" font-size="11.5" fill="#3a3d44" font-weight="normal" text-anchor="middle" textLength="25.3" lengthAdjust="spacing"  stroke="#3a3d44" stroke-width="0.45">2017</text>
<text x="444.8" y="579.4" font-family="Liberation Sans, sans-serif" font-size="11.5" fill="#3a3d44" font-weight="normal" text-anchor="middle" textLength="25.3" lengthAdjust="spacing"  stroke="#3a3d44" stroke-width="0.45">2019</text>
<text x="511.6" y="579.4" font-family="Liberation Sans, sans-serif" font-size="11.5" fill="#3a3d44" font-weight="normal" text-anchor="middle" textLength="25.3" lengthAdjust="spacing"  stroke="#3a3d44" stroke-width="0.45">2020</text>
<text x="578.4" y="579.4" font-family="Liberation Sans, sans-serif" font-size="11.5" fill="#3a3d44" font-weight="normal" text-anchor="middle" textLength="25.3" lengthAdjust="spacing"  stroke="#3a3d44" stroke-width="0.45">2021</text>
<text x="645.3" y="579.4" font-family="Liberation Sans, sans-serif" font-size="11.5" fill="#3a3d44" font-weight="normal" text-anchor="middle" textLength="25.3" lengthAdjust="spacing"  stroke="#3a3d44" stroke-width="0.45">2022</text>
<text x="712.1" y="579.4" font-family="Liberation Sans, sans-serif" font-size="11.5" fill="#3a3d44" font-weight="normal" text-anchor="middle" textLength="25.3" lengthAdjust="spacing"  stroke="#3a3d44" stroke-width="0.45">2023</text>
<text x="779.0" y="579.4" font-family="Liberation Sans, sans-serif" font-size="11.5" fill="#3a3d44" font-weight="normal" text-anchor="middle" textLength="25.3" lengthAdjust="spacing"  stroke="#3a3d44" stroke-width="0.45">2024</text>
<text x="845.8" y="579.4" font-family="Liberation Sans, sans-serif" font-size="11.5" fill="#3a3d44" font-weight="normal" text-anchor="middle" textLength="25.3" lengthAdjust="spacing"  stroke="#3a3d44" stroke-width="0.45">2025</text>
<text x="912.7" y="579.4" font-family="Liberation Sans, sans-serif" font-size="11.5" fill="#3a3d44" font-weight="normal" text-anchor="middle" textLength="25.3" lengthAdjust="spacing"  stroke="#3a3d44" stroke-width="0.45">2026</text>
<text x="979.5" y="579.4" font-family="Liberation Sans, sans-serif" font-size="11.5" fill="#3a3d44" font-weight="normal" text-anchor="middle" textLength="25.3" lengthAdjust="spacing"  stroke="#3a3d44" stroke-width="0.45">2027</text>
<text x="1046.4" y="579.4" font-family="Liberation Sans, sans-serif" font-size="11.5" fill="#3a3d44" font-weight="normal" text-anchor="middle" textLength="25.3" lengthAdjust="spacing"  stroke="#3a3d44" stroke-width="0.45">2028</text>
<text x="1113.2" y="579.4" font-family="Liberation Sans, sans-serif" font-size="11.5" fill="#3a3d44" font-weight="normal" text-anchor="middle" textLength="25.3" lengthAdjust="spacing"  stroke="#3a3d44" stroke-width="0.45">2029</text>
<rect x="349.7" y="561.7" width="89" height="23" rx="2" fill="#131722"/>
<path d="M357,575 L360,571.5 L366,571 L378,571 L388,569 L394,567 L398,564 L404,563 L412,563.5 L418,565.5 L428,566 L434,567.5 L437.5,573 L434,577 L428,579 L424,581.5 L415,582 L400,582 L385,582.5 L370,582 L360,581 L357,578 Z" fill="#000" stroke="#000" stroke-width="1.5" stroke-linejoin="round"/>
<path d="M1167.6,576.3 L1171.3,570.3 L1178.7,570.3 L1182.4,576.3 L1178.7,582.3 L1171.3,582.3 Z" fill="none" stroke="#131722" stroke-width="1.3" stroke-linejoin="round"/>
<circle cx="1175" cy="576.3" r="2" fill="none" stroke="#131722" stroke-width="1.3"/>
<text x="11.7" y="392.2" font-family="Liberation Sans, sans-serif" font-size="12.5" fill="#585c63" font-weight="normal" text-anchor="start" textLength="31.5" lengthAdjust="spacingAndGlyphs"  stroke="#585c63" stroke-width="0.25">Stoch</text>
<circle cx="61.4" cy="386.9" r="9" fill="#ebe2ff"/><path d="M56.86,385.06 A4.9,4.9 0 0 1 65.94,385.06" fill="none" stroke="#6d2cf6" stroke-width="1.8"/><path d="M65.94,388.74 A4.9,4.9 0 0 1 56.86,388.74" fill="none" stroke="#6d2cf6" stroke-width="1.8"/><path d="M64.40,384.30 L68.40,385.30 L65.40,387.80 Z" fill="#6d2cf6"/><path d="M58.40,389.50 L54.40,388.50 L57.40,386.00 Z" fill="#6d2cf6"/>
<text x="79.9" y="392.2" font-family="Liberation Sans, sans-serif" font-size="12.5" fill="#2962ff" font-weight="normal" text-anchor="start" textLength="31" lengthAdjust="spacingAndGlyphs"  stroke="#2962ff" stroke-width="0.25">48.91</text>
<text x="117.6" y="392.2" font-family="Liberation Sans, sans-serif" font-size="12.5" fill="#ff6d00" font-weight="normal" text-anchor="start" textLength="33.5" lengthAdjust="spacingAndGlyphs"  stroke="#ff6d00" stroke-width="0.25">28.40</text>
<rect x="10" y="490" width="211" height="2.6" fill="#fff"/>
<text x="11.7" y="492.4" font-family="Liberation Sans, sans-serif" font-size="12.5" fill="#585c63" font-weight="normal" text-anchor="start" textLength="33" lengthAdjust="spacingAndGlyphs"  stroke="#585c63" stroke-width="0.25">MACD</text>
<circle cx="62.3" cy="487.4" r="9" fill="#ebe2ff"/><path d="M57.76,485.56 A4.9,4.9 0 0 1 66.84,485.56" fill="none" stroke="#6d2cf6" stroke-width="1.8"/><path d="M66.84,489.24 A4.9,4.9 0 0 1 57.76,489.24" fill="none" stroke="#6d2cf6" stroke-width="1.8"/><path d="M65.30,484.80 L69.30,485.80 L66.30,488.30 Z" fill="#6d2cf6"/><path d="M59.30,490.00 L55.30,489.00 L58.30,486.50 Z" fill="#6d2cf6"/>
<text x="79.9" y="492.4" font-family="Liberation Sans, sans-serif" font-size="12.5" fill="#ffcdd2" font-weight="normal" text-anchor="start" textLength="46.7" lengthAdjust="spacingAndGlyphs"  stroke="#ffcdd2" stroke-width="0.25">−0.0005</text>
<text x="133.2" y="492.4" font-family="Liberation Sans, sans-serif" font-size="12.5" fill="#2962ff" font-weight="normal" text-anchor="start" textLength="39" lengthAdjust="spacingAndGlyphs"  stroke="#2962ff" stroke-width="0.25">0.0032</text>
<text x="179.2" y="492.4" font-family="Liberation Sans, sans-serif" font-size="12.5" fill="#ff6d00" font-weight="normal" text-anchor="start" textLength="39.7" lengthAdjust="spacingAndGlyphs"  stroke="#ff6d00" stroke-width="0.25">0.0036</text>
<path d="M15,531.7 L26.7,531.7 L26.7,546.7 L21,546.7 L21,537.5 L15,537.5 Z" fill="#000"/>
<circle cx="32" cy="534.4" r="2.7" fill="#000"/>
<path d="M38,531.7 L45,531.7 L39.3,546.7 L32.7,546.7 Z" fill="#000"/>
<path d="M50,531.7 L85.3,531.7 L79.7,546.7 L44.3,546.7 Z" fill="#000"/>
<text x="54.3" y="543" font-family="Liberation Sans, sans-serif" font-size="9.8" fill="#fff" font-weight="bold" text-anchor="start" textLength="21.7" lengthAdjust="spacingAndGlyphs" >PRO</text>
</svg>
</body></html>
